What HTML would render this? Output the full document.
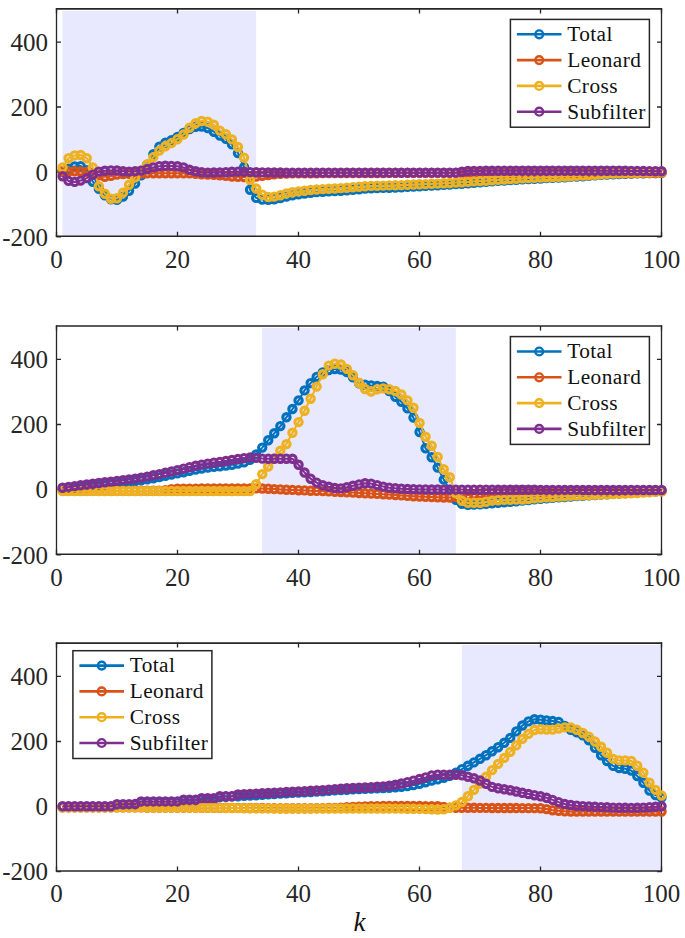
<!DOCTYPE html>
<html><head><meta charset="utf-8"><style>
html,body{margin:0;padding:0;background:#fff;width:685px;height:938px;overflow:hidden}
svg{display:block}
</style></head><body>
<svg width="685" height="938" viewBox="0 0 685 938">
<style>.t{font:25px "Liberation Serif",serif;fill:#262626}.l{font:21.3px "Liberation Serif",serif;fill:#111;letter-spacing:0.45px}.k{font:italic 27px "Liberation Serif",serif;fill:#111}</style>
<defs><filter id="bl" x="-5%" y="-5%" width="110%" height="110%"><feGaussianBlur stdDeviation="0.45"/></filter></defs>
<rect width="685" height="938" fill="#fff"/>
<rect x="62.5" y="10.8" width="193.6" height="225.4" fill="#E8E8FE"/>
<path d="M55.85 8.90H662.15M55.85 236.20H662.15" stroke="#262626" stroke-width="1.6" fill="none"/>
<path d="M56.50 8.10V237.00M661.50 8.10V237.00" stroke="#262626" stroke-width="1.3" fill="none"/>
<path d="M56.5 236.2V231.7M56.5 8.9V13.4M177.5 236.2V231.7M177.5 8.9V13.4M298.5 236.2V231.7M298.5 8.9V13.4M419.5 236.2V231.7M419.5 8.9V13.4M540.5 236.2V231.7M540.5 8.9V13.4M661.5 236.2V231.7M661.5 8.9V13.4M56.5 236.9H61.0M661.5 236.9H657.0M56.5 172.0H61.0M661.5 172.0H657.0M56.5 107.0H61.0M661.5 107.0H657.0M56.5 42.1H61.0M661.5 42.1H657.0" stroke="#262626" stroke-width="1.3" fill="none"/>
<text x="56.5" y="267.6" text-anchor="middle" class="t">0</text>
<text x="177.5" y="267.6" text-anchor="middle" class="t">20</text>
<text x="298.5" y="267.6" text-anchor="middle" class="t">40</text>
<text x="419.5" y="267.6" text-anchor="middle" class="t">60</text>
<text x="540.5" y="267.6" text-anchor="middle" class="t">80</text>
<text x="661.5" y="267.6" text-anchor="middle" class="t">100</text>
<text x="48.0" y="245.5" text-anchor="end" class="t">-200</text>
<text x="48.0" y="180.6" text-anchor="end" class="t">0</text>
<text x="48.0" y="115.6" text-anchor="end" class="t">200</text>
<text x="48.0" y="50.7" text-anchor="end" class="t">400</text>
<g filter="url(#bl)">
<path d="M62.5 171.3 L68.6 168.7 L74.7 166.4 L80.7 166.1 L86.8 170.3 L92.8 181.7 L98.8 188.8 L104.9 195.3 L110.9 199.2 L117.0 199.9 L123.0 196.6 L129.1 190.8 L135.2 183.6 L141.2 175.2 L147.2 164.8 L153.3 154.1 L159.4 146.6 L165.4 142.7 L171.4 140.1 L177.5 136.9 L183.6 133.0 L189.6 129.1 L195.7 126.8 L201.7 126.5 L207.8 128.1 L213.8 131.7 L219.9 135.6 L225.9 138.8 L231.9 144.4 L238.0 153.1 L244.1 167.1 L250.1 189.8 L256.1 197.9 L262.2 199.6 L268.2 199.9 L274.3 199.2 L280.4 198.0 L286.4 196.6 L292.5 195.4 L298.5 194.4 L304.5 193.5 L310.6 192.7 L316.6 192.1 L322.7 191.7 L328.8 191.4 L334.8 191.1 L340.8 190.7 L346.9 190.3 L352.9 189.8 L359.0 189.2 L365.1 188.6 L371.1 188.2 L377.2 188.0 L383.2 187.8 L389.2 187.7 L395.3 187.5 L401.3 187.3 L407.4 186.9 L413.4 186.6 L419.5 186.2 L425.6 185.9 L431.6 185.6 L437.6 185.3 L443.7 184.9 L449.8 184.6 L455.8 184.1 L461.9 183.7 L467.9 183.3 L473.9 182.8 L480.0 182.3 L486.0 181.9 L492.1 181.4 L498.1 180.9 L504.2 180.5 L510.2 180.1 L516.3 179.7 L522.4 179.4 L528.4 179.1 L534.5 178.8 L540.5 178.5 L546.5 178.1 L552.6 177.8 L558.6 177.5 L564.7 177.2 L570.8 176.8 L576.8 176.5 L582.9 176.2 L588.9 175.9 L595.0 175.4 L601.0 174.9 L607.1 174.6 L613.1 174.3 L619.1 174.0 L625.2 173.8 L631.2 173.6 L637.3 173.4 L643.4 173.3 L649.4 173.1 L655.5 173.0 L661.5 172.9" fill="none" stroke="#0072BD" stroke-width="2.00" stroke-linejoin="round"/>
<path d="M58.9 171.3a3.65 3.65 0 1 0 7.30 0a3.65 3.65 0 1 0 -7.30 0M64.9 168.7a3.65 3.65 0 1 0 7.30 0a3.65 3.65 0 1 0 -7.30 0M71.0 166.4a3.65 3.65 0 1 0 7.30 0a3.65 3.65 0 1 0 -7.30 0M77.0 166.1a3.65 3.65 0 1 0 7.30 0a3.65 3.65 0 1 0 -7.30 0M83.1 170.3a3.65 3.65 0 1 0 7.30 0a3.65 3.65 0 1 0 -7.30 0M89.1 181.7a3.65 3.65 0 1 0 7.30 0a3.65 3.65 0 1 0 -7.30 0M95.2 188.8a3.65 3.65 0 1 0 7.30 0a3.65 3.65 0 1 0 -7.30 0M101.2 195.3a3.65 3.65 0 1 0 7.30 0a3.65 3.65 0 1 0 -7.30 0M107.3 199.2a3.65 3.65 0 1 0 7.30 0a3.65 3.65 0 1 0 -7.30 0M113.3 199.9a3.65 3.65 0 1 0 7.30 0a3.65 3.65 0 1 0 -7.30 0M119.4 196.6a3.65 3.65 0 1 0 7.30 0a3.65 3.65 0 1 0 -7.30 0M125.4 190.8a3.65 3.65 0 1 0 7.30 0a3.65 3.65 0 1 0 -7.30 0M131.5 183.6a3.65 3.65 0 1 0 7.30 0a3.65 3.65 0 1 0 -7.30 0M137.5 175.2a3.65 3.65 0 1 0 7.30 0a3.65 3.65 0 1 0 -7.30 0M143.6 164.8a3.65 3.65 0 1 0 7.30 0a3.65 3.65 0 1 0 -7.30 0M149.7 154.1a3.65 3.65 0 1 0 7.30 0a3.65 3.65 0 1 0 -7.30 0M155.7 146.6a3.65 3.65 0 1 0 7.30 0a3.65 3.65 0 1 0 -7.30 0M161.7 142.7a3.65 3.65 0 1 0 7.30 0a3.65 3.65 0 1 0 -7.30 0M167.8 140.1a3.65 3.65 0 1 0 7.30 0a3.65 3.65 0 1 0 -7.30 0M173.8 136.9a3.65 3.65 0 1 0 7.30 0a3.65 3.65 0 1 0 -7.30 0M179.9 133.0a3.65 3.65 0 1 0 7.30 0a3.65 3.65 0 1 0 -7.30 0M185.9 129.1a3.65 3.65 0 1 0 7.30 0a3.65 3.65 0 1 0 -7.30 0M192.0 126.8a3.65 3.65 0 1 0 7.30 0a3.65 3.65 0 1 0 -7.30 0M198.0 126.5a3.65 3.65 0 1 0 7.30 0a3.65 3.65 0 1 0 -7.30 0M204.1 128.1a3.65 3.65 0 1 0 7.30 0a3.65 3.65 0 1 0 -7.30 0M210.2 131.7a3.65 3.65 0 1 0 7.30 0a3.65 3.65 0 1 0 -7.30 0M216.2 135.6a3.65 3.65 0 1 0 7.30 0a3.65 3.65 0 1 0 -7.30 0M222.2 138.8a3.65 3.65 0 1 0 7.30 0a3.65 3.65 0 1 0 -7.30 0M228.3 144.4a3.65 3.65 0 1 0 7.30 0a3.65 3.65 0 1 0 -7.30 0M234.3 153.1a3.65 3.65 0 1 0 7.30 0a3.65 3.65 0 1 0 -7.30 0M240.4 167.1a3.65 3.65 0 1 0 7.30 0a3.65 3.65 0 1 0 -7.30 0M246.4 189.8a3.65 3.65 0 1 0 7.30 0a3.65 3.65 0 1 0 -7.30 0M252.5 197.9a3.65 3.65 0 1 0 7.30 0a3.65 3.65 0 1 0 -7.30 0M258.6 199.6a3.65 3.65 0 1 0 7.30 0a3.65 3.65 0 1 0 -7.30 0M264.6 199.9a3.65 3.65 0 1 0 7.30 0a3.65 3.65 0 1 0 -7.30 0M270.6 199.2a3.65 3.65 0 1 0 7.30 0a3.65 3.65 0 1 0 -7.30 0M276.7 198.0a3.65 3.65 0 1 0 7.30 0a3.65 3.65 0 1 0 -7.30 0M282.8 196.6a3.65 3.65 0 1 0 7.30 0a3.65 3.65 0 1 0 -7.30 0M288.8 195.4a3.65 3.65 0 1 0 7.30 0a3.65 3.65 0 1 0 -7.30 0M294.9 194.4a3.65 3.65 0 1 0 7.30 0a3.65 3.65 0 1 0 -7.30 0M300.9 193.5a3.65 3.65 0 1 0 7.30 0a3.65 3.65 0 1 0 -7.30 0M307.0 192.7a3.65 3.65 0 1 0 7.30 0a3.65 3.65 0 1 0 -7.30 0M313.0 192.1a3.65 3.65 0 1 0 7.30 0a3.65 3.65 0 1 0 -7.30 0M319.1 191.7a3.65 3.65 0 1 0 7.30 0a3.65 3.65 0 1 0 -7.30 0M325.1 191.4a3.65 3.65 0 1 0 7.30 0a3.65 3.65 0 1 0 -7.30 0M331.2 191.1a3.65 3.65 0 1 0 7.30 0a3.65 3.65 0 1 0 -7.30 0M337.2 190.7a3.65 3.65 0 1 0 7.30 0a3.65 3.65 0 1 0 -7.30 0M343.2 190.3a3.65 3.65 0 1 0 7.30 0a3.65 3.65 0 1 0 -7.30 0M349.3 189.8a3.65 3.65 0 1 0 7.30 0a3.65 3.65 0 1 0 -7.30 0M355.4 189.2a3.65 3.65 0 1 0 7.30 0a3.65 3.65 0 1 0 -7.30 0M361.4 188.6a3.65 3.65 0 1 0 7.30 0a3.65 3.65 0 1 0 -7.30 0M367.5 188.2a3.65 3.65 0 1 0 7.30 0a3.65 3.65 0 1 0 -7.30 0M373.5 188.0a3.65 3.65 0 1 0 7.30 0a3.65 3.65 0 1 0 -7.30 0M379.6 187.8a3.65 3.65 0 1 0 7.30 0a3.65 3.65 0 1 0 -7.30 0M385.6 187.7a3.65 3.65 0 1 0 7.30 0a3.65 3.65 0 1 0 -7.30 0M391.7 187.5a3.65 3.65 0 1 0 7.30 0a3.65 3.65 0 1 0 -7.30 0M397.7 187.3a3.65 3.65 0 1 0 7.30 0a3.65 3.65 0 1 0 -7.30 0M403.8 186.9a3.65 3.65 0 1 0 7.30 0a3.65 3.65 0 1 0 -7.30 0M409.8 186.6a3.65 3.65 0 1 0 7.30 0a3.65 3.65 0 1 0 -7.30 0M415.9 186.2a3.65 3.65 0 1 0 7.30 0a3.65 3.65 0 1 0 -7.30 0M421.9 185.9a3.65 3.65 0 1 0 7.30 0a3.65 3.65 0 1 0 -7.30 0M428.0 185.6a3.65 3.65 0 1 0 7.30 0a3.65 3.65 0 1 0 -7.30 0M434.0 185.3a3.65 3.65 0 1 0 7.30 0a3.65 3.65 0 1 0 -7.30 0M440.1 184.9a3.65 3.65 0 1 0 7.30 0a3.65 3.65 0 1 0 -7.30 0M446.1 184.6a3.65 3.65 0 1 0 7.30 0a3.65 3.65 0 1 0 -7.30 0M452.2 184.1a3.65 3.65 0 1 0 7.30 0a3.65 3.65 0 1 0 -7.30 0M458.2 183.7a3.65 3.65 0 1 0 7.30 0a3.65 3.65 0 1 0 -7.30 0M464.3 183.3a3.65 3.65 0 1 0 7.30 0a3.65 3.65 0 1 0 -7.30 0M470.3 182.8a3.65 3.65 0 1 0 7.30 0a3.65 3.65 0 1 0 -7.30 0M476.4 182.3a3.65 3.65 0 1 0 7.30 0a3.65 3.65 0 1 0 -7.30 0M482.4 181.9a3.65 3.65 0 1 0 7.30 0a3.65 3.65 0 1 0 -7.30 0M488.4 181.4a3.65 3.65 0 1 0 7.30 0a3.65 3.65 0 1 0 -7.30 0M494.5 180.9a3.65 3.65 0 1 0 7.30 0a3.65 3.65 0 1 0 -7.30 0M500.6 180.5a3.65 3.65 0 1 0 7.30 0a3.65 3.65 0 1 0 -7.30 0M506.6 180.1a3.65 3.65 0 1 0 7.30 0a3.65 3.65 0 1 0 -7.30 0M512.6 179.7a3.65 3.65 0 1 0 7.30 0a3.65 3.65 0 1 0 -7.30 0M518.7 179.4a3.65 3.65 0 1 0 7.30 0a3.65 3.65 0 1 0 -7.30 0M524.8 179.1a3.65 3.65 0 1 0 7.30 0a3.65 3.65 0 1 0 -7.30 0M530.8 178.8a3.65 3.65 0 1 0 7.30 0a3.65 3.65 0 1 0 -7.30 0M536.9 178.5a3.65 3.65 0 1 0 7.30 0a3.65 3.65 0 1 0 -7.30 0M542.9 178.1a3.65 3.65 0 1 0 7.30 0a3.65 3.65 0 1 0 -7.30 0M548.9 177.8a3.65 3.65 0 1 0 7.30 0a3.65 3.65 0 1 0 -7.30 0M555.0 177.5a3.65 3.65 0 1 0 7.30 0a3.65 3.65 0 1 0 -7.30 0M561.1 177.2a3.65 3.65 0 1 0 7.30 0a3.65 3.65 0 1 0 -7.30 0M567.1 176.8a3.65 3.65 0 1 0 7.30 0a3.65 3.65 0 1 0 -7.30 0M573.1 176.5a3.65 3.65 0 1 0 7.30 0a3.65 3.65 0 1 0 -7.30 0M579.2 176.2a3.65 3.65 0 1 0 7.30 0a3.65 3.65 0 1 0 -7.30 0M585.2 175.9a3.65 3.65 0 1 0 7.30 0a3.65 3.65 0 1 0 -7.30 0M591.3 175.4a3.65 3.65 0 1 0 7.30 0a3.65 3.65 0 1 0 -7.30 0M597.4 174.9a3.65 3.65 0 1 0 7.30 0a3.65 3.65 0 1 0 -7.30 0M603.4 174.6a3.65 3.65 0 1 0 7.30 0a3.65 3.65 0 1 0 -7.30 0M609.5 174.3a3.65 3.65 0 1 0 7.30 0a3.65 3.65 0 1 0 -7.30 0M615.5 174.0a3.65 3.65 0 1 0 7.30 0a3.65 3.65 0 1 0 -7.30 0M621.5 173.8a3.65 3.65 0 1 0 7.30 0a3.65 3.65 0 1 0 -7.30 0M627.6 173.6a3.65 3.65 0 1 0 7.30 0a3.65 3.65 0 1 0 -7.30 0M633.6 173.4a3.65 3.65 0 1 0 7.30 0a3.65 3.65 0 1 0 -7.30 0M639.7 173.3a3.65 3.65 0 1 0 7.30 0a3.65 3.65 0 1 0 -7.30 0M645.8 173.1a3.65 3.65 0 1 0 7.30 0a3.65 3.65 0 1 0 -7.30 0M651.8 173.0a3.65 3.65 0 1 0 7.30 0a3.65 3.65 0 1 0 -7.30 0M657.9 172.9a3.65 3.65 0 1 0 7.30 0a3.65 3.65 0 1 0 -7.30 0" fill="none" stroke="#0072BD" stroke-width="3.10"/>
<path d="M62.5 172.0 L68.6 171.5 L74.7 171.3 L80.7 171.5 L86.8 172.0 L92.8 173.3 L98.8 175.2 L104.9 176.8 L110.9 175.9 L117.0 174.6 L123.0 174.1 L129.1 173.9 L135.2 173.7 L141.2 173.6 L147.2 173.4 L153.3 173.3 L159.4 173.3 L165.4 173.3 L171.4 173.3 L177.5 173.3 L183.6 173.3 L189.6 173.4 L195.7 173.8 L201.7 174.2 L207.8 174.5 L213.8 174.8 L219.9 175.2 L225.9 175.9 L231.9 176.5 L238.0 176.8 L244.1 177.1 L250.1 177.2 L256.1 176.5 L262.2 175.9 L268.2 175.0 L274.3 174.2 L280.4 173.9 L286.4 173.6 L292.5 173.4 L298.5 173.3 L304.5 173.2 L310.6 173.2 L316.6 173.2 L322.7 173.1 L328.8 173.1 L334.8 173.1 L340.8 173.1 L346.9 173.0 L352.9 173.0 L359.0 173.0 L365.1 173.0 L371.1 173.0 L377.2 173.0 L383.2 173.0 L389.2 172.9 L395.3 172.9 L401.3 172.9 L407.4 172.9 L413.4 172.9 L419.5 172.9 L425.6 172.9 L431.6 172.9 L437.6 172.9 L443.7 172.9 L449.8 172.9 L455.8 172.9 L461.9 173.0 L467.9 173.1 L473.9 173.2 L480.0 173.3 L486.0 173.3 L492.1 173.3 L498.1 173.3 L504.2 173.3 L510.2 173.3 L516.3 173.3 L522.4 173.3 L528.4 173.3 L534.5 173.3 L540.5 173.3 L546.5 173.3 L552.6 173.3 L558.6 173.3 L564.7 173.3 L570.8 173.3 L576.8 173.3 L582.9 173.3 L588.9 173.3 L595.0 173.3 L601.0 173.3 L607.1 173.3 L613.1 173.2 L619.1 173.2 L625.2 173.2 L631.2 173.2 L637.3 173.1 L643.4 173.1 L649.4 173.0 L655.5 173.0 L661.5 172.9" fill="none" stroke="#D95319" stroke-width="2.00" stroke-linejoin="round"/>
<path d="M58.9 172.0a3.65 3.65 0 1 0 7.30 0a3.65 3.65 0 1 0 -7.30 0M64.9 171.5a3.65 3.65 0 1 0 7.30 0a3.65 3.65 0 1 0 -7.30 0M71.0 171.3a3.65 3.65 0 1 0 7.30 0a3.65 3.65 0 1 0 -7.30 0M77.0 171.5a3.65 3.65 0 1 0 7.30 0a3.65 3.65 0 1 0 -7.30 0M83.1 172.0a3.65 3.65 0 1 0 7.30 0a3.65 3.65 0 1 0 -7.30 0M89.1 173.3a3.65 3.65 0 1 0 7.30 0a3.65 3.65 0 1 0 -7.30 0M95.2 175.2a3.65 3.65 0 1 0 7.30 0a3.65 3.65 0 1 0 -7.30 0M101.2 176.8a3.65 3.65 0 1 0 7.30 0a3.65 3.65 0 1 0 -7.30 0M107.3 175.9a3.65 3.65 0 1 0 7.30 0a3.65 3.65 0 1 0 -7.30 0M113.3 174.6a3.65 3.65 0 1 0 7.30 0a3.65 3.65 0 1 0 -7.30 0M119.4 174.1a3.65 3.65 0 1 0 7.30 0a3.65 3.65 0 1 0 -7.30 0M125.4 173.9a3.65 3.65 0 1 0 7.30 0a3.65 3.65 0 1 0 -7.30 0M131.5 173.7a3.65 3.65 0 1 0 7.30 0a3.65 3.65 0 1 0 -7.30 0M137.5 173.6a3.65 3.65 0 1 0 7.30 0a3.65 3.65 0 1 0 -7.30 0M143.6 173.4a3.65 3.65 0 1 0 7.30 0a3.65 3.65 0 1 0 -7.30 0M149.7 173.3a3.65 3.65 0 1 0 7.30 0a3.65 3.65 0 1 0 -7.30 0M155.7 173.3a3.65 3.65 0 1 0 7.30 0a3.65 3.65 0 1 0 -7.30 0M161.7 173.3a3.65 3.65 0 1 0 7.30 0a3.65 3.65 0 1 0 -7.30 0M167.8 173.3a3.65 3.65 0 1 0 7.30 0a3.65 3.65 0 1 0 -7.30 0M173.8 173.3a3.65 3.65 0 1 0 7.30 0a3.65 3.65 0 1 0 -7.30 0M179.9 173.3a3.65 3.65 0 1 0 7.30 0a3.65 3.65 0 1 0 -7.30 0M185.9 173.4a3.65 3.65 0 1 0 7.30 0a3.65 3.65 0 1 0 -7.30 0M192.0 173.8a3.65 3.65 0 1 0 7.30 0a3.65 3.65 0 1 0 -7.30 0M198.0 174.2a3.65 3.65 0 1 0 7.30 0a3.65 3.65 0 1 0 -7.30 0M204.1 174.5a3.65 3.65 0 1 0 7.30 0a3.65 3.65 0 1 0 -7.30 0M210.2 174.8a3.65 3.65 0 1 0 7.30 0a3.65 3.65 0 1 0 -7.30 0M216.2 175.2a3.65 3.65 0 1 0 7.30 0a3.65 3.65 0 1 0 -7.30 0M222.2 175.9a3.65 3.65 0 1 0 7.30 0a3.65 3.65 0 1 0 -7.30 0M228.3 176.5a3.65 3.65 0 1 0 7.30 0a3.65 3.65 0 1 0 -7.30 0M234.3 176.8a3.65 3.65 0 1 0 7.30 0a3.65 3.65 0 1 0 -7.30 0M240.4 177.1a3.65 3.65 0 1 0 7.30 0a3.65 3.65 0 1 0 -7.30 0M246.4 177.2a3.65 3.65 0 1 0 7.30 0a3.65 3.65 0 1 0 -7.30 0M252.5 176.5a3.65 3.65 0 1 0 7.30 0a3.65 3.65 0 1 0 -7.30 0M258.6 175.9a3.65 3.65 0 1 0 7.30 0a3.65 3.65 0 1 0 -7.30 0M264.6 175.0a3.65 3.65 0 1 0 7.30 0a3.65 3.65 0 1 0 -7.30 0M270.6 174.2a3.65 3.65 0 1 0 7.30 0a3.65 3.65 0 1 0 -7.30 0M276.7 173.9a3.65 3.65 0 1 0 7.30 0a3.65 3.65 0 1 0 -7.30 0M282.8 173.6a3.65 3.65 0 1 0 7.30 0a3.65 3.65 0 1 0 -7.30 0M288.8 173.4a3.65 3.65 0 1 0 7.30 0a3.65 3.65 0 1 0 -7.30 0M294.9 173.3a3.65 3.65 0 1 0 7.30 0a3.65 3.65 0 1 0 -7.30 0M300.9 173.2a3.65 3.65 0 1 0 7.30 0a3.65 3.65 0 1 0 -7.30 0M307.0 173.2a3.65 3.65 0 1 0 7.30 0a3.65 3.65 0 1 0 -7.30 0M313.0 173.2a3.65 3.65 0 1 0 7.30 0a3.65 3.65 0 1 0 -7.30 0M319.1 173.1a3.65 3.65 0 1 0 7.30 0a3.65 3.65 0 1 0 -7.30 0M325.1 173.1a3.65 3.65 0 1 0 7.30 0a3.65 3.65 0 1 0 -7.30 0M331.2 173.1a3.65 3.65 0 1 0 7.30 0a3.65 3.65 0 1 0 -7.30 0M337.2 173.1a3.65 3.65 0 1 0 7.30 0a3.65 3.65 0 1 0 -7.30 0M343.2 173.0a3.65 3.65 0 1 0 7.30 0a3.65 3.65 0 1 0 -7.30 0M349.3 173.0a3.65 3.65 0 1 0 7.30 0a3.65 3.65 0 1 0 -7.30 0M355.4 173.0a3.65 3.65 0 1 0 7.30 0a3.65 3.65 0 1 0 -7.30 0M361.4 173.0a3.65 3.65 0 1 0 7.30 0a3.65 3.65 0 1 0 -7.30 0M367.5 173.0a3.65 3.65 0 1 0 7.30 0a3.65 3.65 0 1 0 -7.30 0M373.5 173.0a3.65 3.65 0 1 0 7.30 0a3.65 3.65 0 1 0 -7.30 0M379.6 173.0a3.65 3.65 0 1 0 7.30 0a3.65 3.65 0 1 0 -7.30 0M385.6 172.9a3.65 3.65 0 1 0 7.30 0a3.65 3.65 0 1 0 -7.30 0M391.7 172.9a3.65 3.65 0 1 0 7.30 0a3.65 3.65 0 1 0 -7.30 0M397.7 172.9a3.65 3.65 0 1 0 7.30 0a3.65 3.65 0 1 0 -7.30 0M403.8 172.9a3.65 3.65 0 1 0 7.30 0a3.65 3.65 0 1 0 -7.30 0M409.8 172.9a3.65 3.65 0 1 0 7.30 0a3.65 3.65 0 1 0 -7.30 0M415.9 172.9a3.65 3.65 0 1 0 7.30 0a3.65 3.65 0 1 0 -7.30 0M421.9 172.9a3.65 3.65 0 1 0 7.30 0a3.65 3.65 0 1 0 -7.30 0M428.0 172.9a3.65 3.65 0 1 0 7.30 0a3.65 3.65 0 1 0 -7.30 0M434.0 172.9a3.65 3.65 0 1 0 7.30 0a3.65 3.65 0 1 0 -7.30 0M440.1 172.9a3.65 3.65 0 1 0 7.30 0a3.65 3.65 0 1 0 -7.30 0M446.1 172.9a3.65 3.65 0 1 0 7.30 0a3.65 3.65 0 1 0 -7.30 0M452.2 172.9a3.65 3.65 0 1 0 7.30 0a3.65 3.65 0 1 0 -7.30 0M458.2 173.0a3.65 3.65 0 1 0 7.30 0a3.65 3.65 0 1 0 -7.30 0M464.3 173.1a3.65 3.65 0 1 0 7.30 0a3.65 3.65 0 1 0 -7.30 0M470.3 173.2a3.65 3.65 0 1 0 7.30 0a3.65 3.65 0 1 0 -7.30 0M476.4 173.3a3.65 3.65 0 1 0 7.30 0a3.65 3.65 0 1 0 -7.30 0M482.4 173.3a3.65 3.65 0 1 0 7.30 0a3.65 3.65 0 1 0 -7.30 0M488.4 173.3a3.65 3.65 0 1 0 7.30 0a3.65 3.65 0 1 0 -7.30 0M494.5 173.3a3.65 3.65 0 1 0 7.30 0a3.65 3.65 0 1 0 -7.30 0M500.6 173.3a3.65 3.65 0 1 0 7.30 0a3.65 3.65 0 1 0 -7.30 0M506.6 173.3a3.65 3.65 0 1 0 7.30 0a3.65 3.65 0 1 0 -7.30 0M512.6 173.3a3.65 3.65 0 1 0 7.30 0a3.65 3.65 0 1 0 -7.30 0M518.7 173.3a3.65 3.65 0 1 0 7.30 0a3.65 3.65 0 1 0 -7.30 0M524.8 173.3a3.65 3.65 0 1 0 7.30 0a3.65 3.65 0 1 0 -7.30 0M530.8 173.3a3.65 3.65 0 1 0 7.30 0a3.65 3.65 0 1 0 -7.30 0M536.9 173.3a3.65 3.65 0 1 0 7.30 0a3.65 3.65 0 1 0 -7.30 0M542.9 173.3a3.65 3.65 0 1 0 7.30 0a3.65 3.65 0 1 0 -7.30 0M548.9 173.3a3.65 3.65 0 1 0 7.30 0a3.65 3.65 0 1 0 -7.30 0M555.0 173.3a3.65 3.65 0 1 0 7.30 0a3.65 3.65 0 1 0 -7.30 0M561.1 173.3a3.65 3.65 0 1 0 7.30 0a3.65 3.65 0 1 0 -7.30 0M567.1 173.3a3.65 3.65 0 1 0 7.30 0a3.65 3.65 0 1 0 -7.30 0M573.1 173.3a3.65 3.65 0 1 0 7.30 0a3.65 3.65 0 1 0 -7.30 0M579.2 173.3a3.65 3.65 0 1 0 7.30 0a3.65 3.65 0 1 0 -7.30 0M585.2 173.3a3.65 3.65 0 1 0 7.30 0a3.65 3.65 0 1 0 -7.30 0M591.3 173.3a3.65 3.65 0 1 0 7.30 0a3.65 3.65 0 1 0 -7.30 0M597.4 173.3a3.65 3.65 0 1 0 7.30 0a3.65 3.65 0 1 0 -7.30 0M603.4 173.3a3.65 3.65 0 1 0 7.30 0a3.65 3.65 0 1 0 -7.30 0M609.5 173.2a3.65 3.65 0 1 0 7.30 0a3.65 3.65 0 1 0 -7.30 0M615.5 173.2a3.65 3.65 0 1 0 7.30 0a3.65 3.65 0 1 0 -7.30 0M621.5 173.2a3.65 3.65 0 1 0 7.30 0a3.65 3.65 0 1 0 -7.30 0M627.6 173.2a3.65 3.65 0 1 0 7.30 0a3.65 3.65 0 1 0 -7.30 0M633.6 173.1a3.65 3.65 0 1 0 7.30 0a3.65 3.65 0 1 0 -7.30 0M639.7 173.1a3.65 3.65 0 1 0 7.30 0a3.65 3.65 0 1 0 -7.30 0M645.8 173.0a3.65 3.65 0 1 0 7.30 0a3.65 3.65 0 1 0 -7.30 0M651.8 173.0a3.65 3.65 0 1 0 7.30 0a3.65 3.65 0 1 0 -7.30 0M657.9 172.9a3.65 3.65 0 1 0 7.30 0a3.65 3.65 0 1 0 -7.30 0" fill="none" stroke="#D95319" stroke-width="3.10"/>
<path d="M62.5 167.4 L68.6 158.2 L74.7 155.4 L80.7 155.0 L86.8 158.2 L92.8 167.4 L98.8 186.2 L104.9 193.7 L110.9 198.7 L117.0 198.3 L123.0 192.6 L129.1 184.8 L135.2 177.4 L141.2 170.4 L147.2 164.5 L153.3 157.1 L159.4 150.6 L165.4 146.3 L171.4 143.1 L177.5 139.2 L183.6 134.5 L189.6 127.8 L195.7 123.2 L201.7 121.0 L207.8 121.7 L213.8 124.8 L219.9 130.6 L225.9 134.3 L231.9 139.4 L238.0 147.0 L244.1 157.6 L250.1 179.9 L256.1 188.5 L262.2 194.7 L268.2 197.0 L274.3 196.6 L280.4 195.2 L286.4 193.4 L292.5 192.3 L298.5 191.4 L304.5 190.7 L310.6 190.0 L316.6 189.5 L322.7 189.1 L328.8 188.8 L334.8 188.5 L340.8 188.1 L346.9 187.7 L352.9 187.2 L359.0 186.7 L365.1 186.3 L371.1 185.9 L377.2 185.7 L383.2 185.6 L389.2 185.4 L395.3 185.3 L401.3 185.1 L407.4 184.8 L413.4 184.5 L419.5 184.3 L425.6 184.1 L431.6 183.8 L437.6 183.6 L443.7 183.3 L449.8 183.0 L455.8 182.6 L461.9 182.3 L467.9 181.9 L473.9 181.4 L480.0 181.0 L486.0 180.7 L492.1 180.3 L498.1 179.9 L504.2 179.5 L510.2 179.1 L516.3 178.8 L522.4 178.4 L528.4 178.1 L534.5 177.8 L540.5 177.5 L546.5 177.2 L552.6 177.0 L558.6 176.7 L564.7 176.5 L570.8 176.2 L576.8 175.9 L582.9 175.6 L588.9 175.2 L595.0 174.8 L601.0 174.3 L607.1 173.9 L613.1 173.6 L619.1 173.3 L625.2 173.1 L631.2 172.9 L637.3 172.8 L643.4 172.6 L649.4 172.5 L655.5 172.4 L661.5 172.3" fill="none" stroke="#EDB120" stroke-width="2.00" stroke-linejoin="round"/>
<path d="M58.9 167.4a3.65 3.65 0 1 0 7.30 0a3.65 3.65 0 1 0 -7.30 0M64.9 158.2a3.65 3.65 0 1 0 7.30 0a3.65 3.65 0 1 0 -7.30 0M71.0 155.4a3.65 3.65 0 1 0 7.30 0a3.65 3.65 0 1 0 -7.30 0M77.0 155.0a3.65 3.65 0 1 0 7.30 0a3.65 3.65 0 1 0 -7.30 0M83.1 158.2a3.65 3.65 0 1 0 7.30 0a3.65 3.65 0 1 0 -7.30 0M89.1 167.4a3.65 3.65 0 1 0 7.30 0a3.65 3.65 0 1 0 -7.30 0M95.2 186.2a3.65 3.65 0 1 0 7.30 0a3.65 3.65 0 1 0 -7.30 0M101.2 193.7a3.65 3.65 0 1 0 7.30 0a3.65 3.65 0 1 0 -7.30 0M107.3 198.7a3.65 3.65 0 1 0 7.30 0a3.65 3.65 0 1 0 -7.30 0M113.3 198.3a3.65 3.65 0 1 0 7.30 0a3.65 3.65 0 1 0 -7.30 0M119.4 192.6a3.65 3.65 0 1 0 7.30 0a3.65 3.65 0 1 0 -7.30 0M125.4 184.8a3.65 3.65 0 1 0 7.30 0a3.65 3.65 0 1 0 -7.30 0M131.5 177.4a3.65 3.65 0 1 0 7.30 0a3.65 3.65 0 1 0 -7.30 0M137.5 170.4a3.65 3.65 0 1 0 7.30 0a3.65 3.65 0 1 0 -7.30 0M143.6 164.5a3.65 3.65 0 1 0 7.30 0a3.65 3.65 0 1 0 -7.30 0M149.7 157.1a3.65 3.65 0 1 0 7.30 0a3.65 3.65 0 1 0 -7.30 0M155.7 150.6a3.65 3.65 0 1 0 7.30 0a3.65 3.65 0 1 0 -7.30 0M161.7 146.3a3.65 3.65 0 1 0 7.30 0a3.65 3.65 0 1 0 -7.30 0M167.8 143.1a3.65 3.65 0 1 0 7.30 0a3.65 3.65 0 1 0 -7.30 0M173.8 139.2a3.65 3.65 0 1 0 7.30 0a3.65 3.65 0 1 0 -7.30 0M179.9 134.5a3.65 3.65 0 1 0 7.30 0a3.65 3.65 0 1 0 -7.30 0M185.9 127.8a3.65 3.65 0 1 0 7.30 0a3.65 3.65 0 1 0 -7.30 0M192.0 123.2a3.65 3.65 0 1 0 7.30 0a3.65 3.65 0 1 0 -7.30 0M198.0 121.0a3.65 3.65 0 1 0 7.30 0a3.65 3.65 0 1 0 -7.30 0M204.1 121.7a3.65 3.65 0 1 0 7.30 0a3.65 3.65 0 1 0 -7.30 0M210.2 124.8a3.65 3.65 0 1 0 7.30 0a3.65 3.65 0 1 0 -7.30 0M216.2 130.6a3.65 3.65 0 1 0 7.30 0a3.65 3.65 0 1 0 -7.30 0M222.2 134.3a3.65 3.65 0 1 0 7.30 0a3.65 3.65 0 1 0 -7.30 0M228.3 139.4a3.65 3.65 0 1 0 7.30 0a3.65 3.65 0 1 0 -7.30 0M234.3 147.0a3.65 3.65 0 1 0 7.30 0a3.65 3.65 0 1 0 -7.30 0M240.4 157.6a3.65 3.65 0 1 0 7.30 0a3.65 3.65 0 1 0 -7.30 0M246.4 179.9a3.65 3.65 0 1 0 7.30 0a3.65 3.65 0 1 0 -7.30 0M252.5 188.5a3.65 3.65 0 1 0 7.30 0a3.65 3.65 0 1 0 -7.30 0M258.6 194.7a3.65 3.65 0 1 0 7.30 0a3.65 3.65 0 1 0 -7.30 0M264.6 197.0a3.65 3.65 0 1 0 7.30 0a3.65 3.65 0 1 0 -7.30 0M270.6 196.6a3.65 3.65 0 1 0 7.30 0a3.65 3.65 0 1 0 -7.30 0M276.7 195.2a3.65 3.65 0 1 0 7.30 0a3.65 3.65 0 1 0 -7.30 0M282.8 193.4a3.65 3.65 0 1 0 7.30 0a3.65 3.65 0 1 0 -7.30 0M288.8 192.3a3.65 3.65 0 1 0 7.30 0a3.65 3.65 0 1 0 -7.30 0M294.9 191.4a3.65 3.65 0 1 0 7.30 0a3.65 3.65 0 1 0 -7.30 0M300.9 190.7a3.65 3.65 0 1 0 7.30 0a3.65 3.65 0 1 0 -7.30 0M307.0 190.0a3.65 3.65 0 1 0 7.30 0a3.65 3.65 0 1 0 -7.30 0M313.0 189.5a3.65 3.65 0 1 0 7.30 0a3.65 3.65 0 1 0 -7.30 0M319.1 189.1a3.65 3.65 0 1 0 7.30 0a3.65 3.65 0 1 0 -7.30 0M325.1 188.8a3.65 3.65 0 1 0 7.30 0a3.65 3.65 0 1 0 -7.30 0M331.2 188.5a3.65 3.65 0 1 0 7.30 0a3.65 3.65 0 1 0 -7.30 0M337.2 188.1a3.65 3.65 0 1 0 7.30 0a3.65 3.65 0 1 0 -7.30 0M343.2 187.7a3.65 3.65 0 1 0 7.30 0a3.65 3.65 0 1 0 -7.30 0M349.3 187.2a3.65 3.65 0 1 0 7.30 0a3.65 3.65 0 1 0 -7.30 0M355.4 186.7a3.65 3.65 0 1 0 7.30 0a3.65 3.65 0 1 0 -7.30 0M361.4 186.3a3.65 3.65 0 1 0 7.30 0a3.65 3.65 0 1 0 -7.30 0M367.5 185.9a3.65 3.65 0 1 0 7.30 0a3.65 3.65 0 1 0 -7.30 0M373.5 185.7a3.65 3.65 0 1 0 7.30 0a3.65 3.65 0 1 0 -7.30 0M379.6 185.6a3.65 3.65 0 1 0 7.30 0a3.65 3.65 0 1 0 -7.30 0M385.6 185.4a3.65 3.65 0 1 0 7.30 0a3.65 3.65 0 1 0 -7.30 0M391.7 185.3a3.65 3.65 0 1 0 7.30 0a3.65 3.65 0 1 0 -7.30 0M397.7 185.1a3.65 3.65 0 1 0 7.30 0a3.65 3.65 0 1 0 -7.30 0M403.8 184.8a3.65 3.65 0 1 0 7.30 0a3.65 3.65 0 1 0 -7.30 0M409.8 184.5a3.65 3.65 0 1 0 7.30 0a3.65 3.65 0 1 0 -7.30 0M415.9 184.3a3.65 3.65 0 1 0 7.30 0a3.65 3.65 0 1 0 -7.30 0M421.9 184.1a3.65 3.65 0 1 0 7.30 0a3.65 3.65 0 1 0 -7.30 0M428.0 183.8a3.65 3.65 0 1 0 7.30 0a3.65 3.65 0 1 0 -7.30 0M434.0 183.6a3.65 3.65 0 1 0 7.30 0a3.65 3.65 0 1 0 -7.30 0M440.1 183.3a3.65 3.65 0 1 0 7.30 0a3.65 3.65 0 1 0 -7.30 0M446.1 183.0a3.65 3.65 0 1 0 7.30 0a3.65 3.65 0 1 0 -7.30 0M452.2 182.6a3.65 3.65 0 1 0 7.30 0a3.65 3.65 0 1 0 -7.30 0M458.2 182.3a3.65 3.65 0 1 0 7.30 0a3.65 3.65 0 1 0 -7.30 0M464.3 181.9a3.65 3.65 0 1 0 7.30 0a3.65 3.65 0 1 0 -7.30 0M470.3 181.4a3.65 3.65 0 1 0 7.30 0a3.65 3.65 0 1 0 -7.30 0M476.4 181.0a3.65 3.65 0 1 0 7.30 0a3.65 3.65 0 1 0 -7.30 0M482.4 180.7a3.65 3.65 0 1 0 7.30 0a3.65 3.65 0 1 0 -7.30 0M488.4 180.3a3.65 3.65 0 1 0 7.30 0a3.65 3.65 0 1 0 -7.30 0M494.5 179.9a3.65 3.65 0 1 0 7.30 0a3.65 3.65 0 1 0 -7.30 0M500.6 179.5a3.65 3.65 0 1 0 7.30 0a3.65 3.65 0 1 0 -7.30 0M506.6 179.1a3.65 3.65 0 1 0 7.30 0a3.65 3.65 0 1 0 -7.30 0M512.6 178.8a3.65 3.65 0 1 0 7.30 0a3.65 3.65 0 1 0 -7.30 0M518.7 178.4a3.65 3.65 0 1 0 7.30 0a3.65 3.65 0 1 0 -7.30 0M524.8 178.1a3.65 3.65 0 1 0 7.30 0a3.65 3.65 0 1 0 -7.30 0M530.8 177.8a3.65 3.65 0 1 0 7.30 0a3.65 3.65 0 1 0 -7.30 0M536.9 177.5a3.65 3.65 0 1 0 7.30 0a3.65 3.65 0 1 0 -7.30 0M542.9 177.2a3.65 3.65 0 1 0 7.30 0a3.65 3.65 0 1 0 -7.30 0M548.9 177.0a3.65 3.65 0 1 0 7.30 0a3.65 3.65 0 1 0 -7.30 0M555.0 176.7a3.65 3.65 0 1 0 7.30 0a3.65 3.65 0 1 0 -7.30 0M561.1 176.5a3.65 3.65 0 1 0 7.30 0a3.65 3.65 0 1 0 -7.30 0M567.1 176.2a3.65 3.65 0 1 0 7.30 0a3.65 3.65 0 1 0 -7.30 0M573.1 175.9a3.65 3.65 0 1 0 7.30 0a3.65 3.65 0 1 0 -7.30 0M579.2 175.6a3.65 3.65 0 1 0 7.30 0a3.65 3.65 0 1 0 -7.30 0M585.2 175.2a3.65 3.65 0 1 0 7.30 0a3.65 3.65 0 1 0 -7.30 0M591.3 174.8a3.65 3.65 0 1 0 7.30 0a3.65 3.65 0 1 0 -7.30 0M597.4 174.3a3.65 3.65 0 1 0 7.30 0a3.65 3.65 0 1 0 -7.30 0M603.4 173.9a3.65 3.65 0 1 0 7.30 0a3.65 3.65 0 1 0 -7.30 0M609.5 173.6a3.65 3.65 0 1 0 7.30 0a3.65 3.65 0 1 0 -7.30 0M615.5 173.3a3.65 3.65 0 1 0 7.30 0a3.65 3.65 0 1 0 -7.30 0M621.5 173.1a3.65 3.65 0 1 0 7.30 0a3.65 3.65 0 1 0 -7.30 0M627.6 172.9a3.65 3.65 0 1 0 7.30 0a3.65 3.65 0 1 0 -7.30 0M633.6 172.8a3.65 3.65 0 1 0 7.30 0a3.65 3.65 0 1 0 -7.30 0M639.7 172.6a3.65 3.65 0 1 0 7.30 0a3.65 3.65 0 1 0 -7.30 0M645.8 172.5a3.65 3.65 0 1 0 7.30 0a3.65 3.65 0 1 0 -7.30 0M651.8 172.4a3.65 3.65 0 1 0 7.30 0a3.65 3.65 0 1 0 -7.30 0M657.9 172.3a3.65 3.65 0 1 0 7.30 0a3.65 3.65 0 1 0 -7.30 0" fill="none" stroke="#EDB120" stroke-width="3.10"/>
<path d="M62.5 176.2 L68.6 180.9 L74.7 181.9 L80.7 180.6 L86.8 178.1 L92.8 174.7 L98.8 171.6 L104.9 170.8 L110.9 170.4 L117.0 170.5 L123.0 171.3 L129.1 171.6 L135.2 171.3 L141.2 170.6 L147.2 169.0 L153.3 167.4 L159.4 166.2 L165.4 165.8 L171.4 165.9 L177.5 166.3 L183.6 167.4 L189.6 169.8 L195.7 171.3 L201.7 172.2 L207.8 172.6 L213.8 172.5 L219.9 172.4 L225.9 172.2 L231.9 171.8 L238.0 171.6 L244.1 171.8 L250.1 172.1 L256.1 172.3 L262.2 172.4 L268.2 172.4 L274.3 172.5 L280.4 172.5 L286.4 172.6 L292.5 172.6 L298.5 172.6 L304.5 172.6 L310.6 172.6 L316.6 172.6 L322.7 172.6 L328.8 172.6 L334.8 172.6 L340.8 172.6 L346.9 172.6 L352.9 172.6 L359.0 172.6 L365.1 172.6 L371.1 172.6 L377.2 172.6 L383.2 172.6 L389.2 172.6 L395.3 172.6 L401.3 172.6 L407.4 172.6 L413.4 172.6 L419.5 172.6 L425.6 172.6 L431.6 172.6 L437.6 172.6 L443.7 172.6 L449.8 172.6 L455.8 172.6 L461.9 171.8 L467.9 171.0 L473.9 170.9 L480.0 170.9 L486.0 170.8 L492.1 170.8 L498.1 170.7 L504.2 170.7 L510.2 170.7 L516.3 170.7 L522.4 170.7 L528.4 170.7 L534.5 170.7 L540.5 170.7 L546.5 170.7 L552.6 170.7 L558.6 170.7 L564.7 170.7 L570.8 170.7 L576.8 170.7 L582.9 170.7 L588.9 170.7 L595.0 170.7 L601.0 170.7 L607.1 170.7 L613.1 170.7 L619.1 170.7 L625.2 170.8 L631.2 170.9 L637.3 170.9 L643.4 171.0 L649.4 171.1 L655.5 171.2 L661.5 171.3" fill="none" stroke="#7E2F8E" stroke-width="2.00" stroke-linejoin="round"/>
<path d="M58.9 176.2a3.65 3.65 0 1 0 7.30 0a3.65 3.65 0 1 0 -7.30 0M64.9 180.9a3.65 3.65 0 1 0 7.30 0a3.65 3.65 0 1 0 -7.30 0M71.0 181.9a3.65 3.65 0 1 0 7.30 0a3.65 3.65 0 1 0 -7.30 0M77.0 180.6a3.65 3.65 0 1 0 7.30 0a3.65 3.65 0 1 0 -7.30 0M83.1 178.1a3.65 3.65 0 1 0 7.30 0a3.65 3.65 0 1 0 -7.30 0M89.1 174.7a3.65 3.65 0 1 0 7.30 0a3.65 3.65 0 1 0 -7.30 0M95.2 171.6a3.65 3.65 0 1 0 7.30 0a3.65 3.65 0 1 0 -7.30 0M101.2 170.8a3.65 3.65 0 1 0 7.30 0a3.65 3.65 0 1 0 -7.30 0M107.3 170.4a3.65 3.65 0 1 0 7.30 0a3.65 3.65 0 1 0 -7.30 0M113.3 170.5a3.65 3.65 0 1 0 7.30 0a3.65 3.65 0 1 0 -7.30 0M119.4 171.3a3.65 3.65 0 1 0 7.30 0a3.65 3.65 0 1 0 -7.30 0M125.4 171.6a3.65 3.65 0 1 0 7.30 0a3.65 3.65 0 1 0 -7.30 0M131.5 171.3a3.65 3.65 0 1 0 7.30 0a3.65 3.65 0 1 0 -7.30 0M137.5 170.6a3.65 3.65 0 1 0 7.30 0a3.65 3.65 0 1 0 -7.30 0M143.6 169.0a3.65 3.65 0 1 0 7.30 0a3.65 3.65 0 1 0 -7.30 0M149.7 167.4a3.65 3.65 0 1 0 7.30 0a3.65 3.65 0 1 0 -7.30 0M155.7 166.2a3.65 3.65 0 1 0 7.30 0a3.65 3.65 0 1 0 -7.30 0M161.7 165.8a3.65 3.65 0 1 0 7.30 0a3.65 3.65 0 1 0 -7.30 0M167.8 165.9a3.65 3.65 0 1 0 7.30 0a3.65 3.65 0 1 0 -7.30 0M173.8 166.3a3.65 3.65 0 1 0 7.30 0a3.65 3.65 0 1 0 -7.30 0M179.9 167.4a3.65 3.65 0 1 0 7.30 0a3.65 3.65 0 1 0 -7.30 0M185.9 169.8a3.65 3.65 0 1 0 7.30 0a3.65 3.65 0 1 0 -7.30 0M192.0 171.3a3.65 3.65 0 1 0 7.30 0a3.65 3.65 0 1 0 -7.30 0M198.0 172.2a3.65 3.65 0 1 0 7.30 0a3.65 3.65 0 1 0 -7.30 0M204.1 172.6a3.65 3.65 0 1 0 7.30 0a3.65 3.65 0 1 0 -7.30 0M210.2 172.5a3.65 3.65 0 1 0 7.30 0a3.65 3.65 0 1 0 -7.30 0M216.2 172.4a3.65 3.65 0 1 0 7.30 0a3.65 3.65 0 1 0 -7.30 0M222.2 172.2a3.65 3.65 0 1 0 7.30 0a3.65 3.65 0 1 0 -7.30 0M228.3 171.8a3.65 3.65 0 1 0 7.30 0a3.65 3.65 0 1 0 -7.30 0M234.3 171.6a3.65 3.65 0 1 0 7.30 0a3.65 3.65 0 1 0 -7.30 0M240.4 171.8a3.65 3.65 0 1 0 7.30 0a3.65 3.65 0 1 0 -7.30 0M246.4 172.1a3.65 3.65 0 1 0 7.30 0a3.65 3.65 0 1 0 -7.30 0M252.5 172.3a3.65 3.65 0 1 0 7.30 0a3.65 3.65 0 1 0 -7.30 0M258.6 172.4a3.65 3.65 0 1 0 7.30 0a3.65 3.65 0 1 0 -7.30 0M264.6 172.4a3.65 3.65 0 1 0 7.30 0a3.65 3.65 0 1 0 -7.30 0M270.6 172.5a3.65 3.65 0 1 0 7.30 0a3.65 3.65 0 1 0 -7.30 0M276.7 172.5a3.65 3.65 0 1 0 7.30 0a3.65 3.65 0 1 0 -7.30 0M282.8 172.6a3.65 3.65 0 1 0 7.30 0a3.65 3.65 0 1 0 -7.30 0M288.8 172.6a3.65 3.65 0 1 0 7.30 0a3.65 3.65 0 1 0 -7.30 0M294.9 172.6a3.65 3.65 0 1 0 7.30 0a3.65 3.65 0 1 0 -7.30 0M300.9 172.6a3.65 3.65 0 1 0 7.30 0a3.65 3.65 0 1 0 -7.30 0M307.0 172.6a3.65 3.65 0 1 0 7.30 0a3.65 3.65 0 1 0 -7.30 0M313.0 172.6a3.65 3.65 0 1 0 7.30 0a3.65 3.65 0 1 0 -7.30 0M319.1 172.6a3.65 3.65 0 1 0 7.30 0a3.65 3.65 0 1 0 -7.30 0M325.1 172.6a3.65 3.65 0 1 0 7.30 0a3.65 3.65 0 1 0 -7.30 0M331.2 172.6a3.65 3.65 0 1 0 7.30 0a3.65 3.65 0 1 0 -7.30 0M337.2 172.6a3.65 3.65 0 1 0 7.30 0a3.65 3.65 0 1 0 -7.30 0M343.2 172.6a3.65 3.65 0 1 0 7.30 0a3.65 3.65 0 1 0 -7.30 0M349.3 172.6a3.65 3.65 0 1 0 7.30 0a3.65 3.65 0 1 0 -7.30 0M355.4 172.6a3.65 3.65 0 1 0 7.30 0a3.65 3.65 0 1 0 -7.30 0M361.4 172.6a3.65 3.65 0 1 0 7.30 0a3.65 3.65 0 1 0 -7.30 0M367.5 172.6a3.65 3.65 0 1 0 7.30 0a3.65 3.65 0 1 0 -7.30 0M373.5 172.6a3.65 3.65 0 1 0 7.30 0a3.65 3.65 0 1 0 -7.30 0M379.6 172.6a3.65 3.65 0 1 0 7.30 0a3.65 3.65 0 1 0 -7.30 0M385.6 172.6a3.65 3.65 0 1 0 7.30 0a3.65 3.65 0 1 0 -7.30 0M391.7 172.6a3.65 3.65 0 1 0 7.30 0a3.65 3.65 0 1 0 -7.30 0M397.7 172.6a3.65 3.65 0 1 0 7.30 0a3.65 3.65 0 1 0 -7.30 0M403.8 172.6a3.65 3.65 0 1 0 7.30 0a3.65 3.65 0 1 0 -7.30 0M409.8 172.6a3.65 3.65 0 1 0 7.30 0a3.65 3.65 0 1 0 -7.30 0M415.9 172.6a3.65 3.65 0 1 0 7.30 0a3.65 3.65 0 1 0 -7.30 0M421.9 172.6a3.65 3.65 0 1 0 7.30 0a3.65 3.65 0 1 0 -7.30 0M428.0 172.6a3.65 3.65 0 1 0 7.30 0a3.65 3.65 0 1 0 -7.30 0M434.0 172.6a3.65 3.65 0 1 0 7.30 0a3.65 3.65 0 1 0 -7.30 0M440.1 172.6a3.65 3.65 0 1 0 7.30 0a3.65 3.65 0 1 0 -7.30 0M446.1 172.6a3.65 3.65 0 1 0 7.30 0a3.65 3.65 0 1 0 -7.30 0M452.2 172.6a3.65 3.65 0 1 0 7.30 0a3.65 3.65 0 1 0 -7.30 0M458.2 171.8a3.65 3.65 0 1 0 7.30 0a3.65 3.65 0 1 0 -7.30 0M464.3 171.0a3.65 3.65 0 1 0 7.30 0a3.65 3.65 0 1 0 -7.30 0M470.3 170.9a3.65 3.65 0 1 0 7.30 0a3.65 3.65 0 1 0 -7.30 0M476.4 170.9a3.65 3.65 0 1 0 7.30 0a3.65 3.65 0 1 0 -7.30 0M482.4 170.8a3.65 3.65 0 1 0 7.30 0a3.65 3.65 0 1 0 -7.30 0M488.4 170.8a3.65 3.65 0 1 0 7.30 0a3.65 3.65 0 1 0 -7.30 0M494.5 170.7a3.65 3.65 0 1 0 7.30 0a3.65 3.65 0 1 0 -7.30 0M500.6 170.7a3.65 3.65 0 1 0 7.30 0a3.65 3.65 0 1 0 -7.30 0M506.6 170.7a3.65 3.65 0 1 0 7.30 0a3.65 3.65 0 1 0 -7.30 0M512.6 170.7a3.65 3.65 0 1 0 7.30 0a3.65 3.65 0 1 0 -7.30 0M518.7 170.7a3.65 3.65 0 1 0 7.30 0a3.65 3.65 0 1 0 -7.30 0M524.8 170.7a3.65 3.65 0 1 0 7.30 0a3.65 3.65 0 1 0 -7.30 0M530.8 170.7a3.65 3.65 0 1 0 7.30 0a3.65 3.65 0 1 0 -7.30 0M536.9 170.7a3.65 3.65 0 1 0 7.30 0a3.65 3.65 0 1 0 -7.30 0M542.9 170.7a3.65 3.65 0 1 0 7.30 0a3.65 3.65 0 1 0 -7.30 0M548.9 170.7a3.65 3.65 0 1 0 7.30 0a3.65 3.65 0 1 0 -7.30 0M555.0 170.7a3.65 3.65 0 1 0 7.30 0a3.65 3.65 0 1 0 -7.30 0M561.1 170.7a3.65 3.65 0 1 0 7.30 0a3.65 3.65 0 1 0 -7.30 0M567.1 170.7a3.65 3.65 0 1 0 7.30 0a3.65 3.65 0 1 0 -7.30 0M573.1 170.7a3.65 3.65 0 1 0 7.30 0a3.65 3.65 0 1 0 -7.30 0M579.2 170.7a3.65 3.65 0 1 0 7.30 0a3.65 3.65 0 1 0 -7.30 0M585.2 170.7a3.65 3.65 0 1 0 7.30 0a3.65 3.65 0 1 0 -7.30 0M591.3 170.7a3.65 3.65 0 1 0 7.30 0a3.65 3.65 0 1 0 -7.30 0M597.4 170.7a3.65 3.65 0 1 0 7.30 0a3.65 3.65 0 1 0 -7.30 0M603.4 170.7a3.65 3.65 0 1 0 7.30 0a3.65 3.65 0 1 0 -7.30 0M609.5 170.7a3.65 3.65 0 1 0 7.30 0a3.65 3.65 0 1 0 -7.30 0M615.5 170.7a3.65 3.65 0 1 0 7.30 0a3.65 3.65 0 1 0 -7.30 0M621.5 170.8a3.65 3.65 0 1 0 7.30 0a3.65 3.65 0 1 0 -7.30 0M627.6 170.9a3.65 3.65 0 1 0 7.30 0a3.65 3.65 0 1 0 -7.30 0M633.6 170.9a3.65 3.65 0 1 0 7.30 0a3.65 3.65 0 1 0 -7.30 0M639.7 171.0a3.65 3.65 0 1 0 7.30 0a3.65 3.65 0 1 0 -7.30 0M645.8 171.1a3.65 3.65 0 1 0 7.30 0a3.65 3.65 0 1 0 -7.30 0M651.8 171.2a3.65 3.65 0 1 0 7.30 0a3.65 3.65 0 1 0 -7.30 0M657.9 171.3a3.65 3.65 0 1 0 7.30 0a3.65 3.65 0 1 0 -7.30 0" fill="none" stroke="#7E2F8E" stroke-width="3.10"/>
</g>
<rect x="510.4" y="19.4" width="139" height="107.8" fill="#fff" stroke="#262626" stroke-width="1.5"/>
<path d="M516.9 34.3H561.5" stroke="#0072BD" stroke-width="2.6"/>
<circle cx="539.2" cy="34.3" r="3.9" fill="none" stroke="#0072BD" stroke-width="2.4"/>
<text x="567.2" y="41.1" class="l">Total</text>
<path d="M516.9 60.1H561.5" stroke="#D95319" stroke-width="2.6"/>
<circle cx="539.2" cy="60.1" r="3.9" fill="none" stroke="#D95319" stroke-width="2.4"/>
<text x="567.2" y="66.9" class="l">Leonard</text>
<path d="M516.9 85.9H561.5" stroke="#EDB120" stroke-width="2.6"/>
<circle cx="539.2" cy="85.9" r="3.9" fill="none" stroke="#EDB120" stroke-width="2.4"/>
<text x="567.2" y="92.7" class="l">Cross</text>
<path d="M516.9 111.7H561.5" stroke="#7E2F8E" stroke-width="2.6"/>
<circle cx="539.2" cy="111.7" r="3.9" fill="none" stroke="#7E2F8E" stroke-width="2.4"/>
<text x="567.2" y="118.5" class="l">Subfilter</text>
<rect x="262.2" y="327.9" width="193.6" height="226.3" fill="#E8E8FE"/>
<path d="M55.85 326.00H662.15M55.85 554.20H662.15" stroke="#262626" stroke-width="1.6" fill="none"/>
<path d="M56.50 325.20V555.00M661.50 325.20V555.00" stroke="#262626" stroke-width="1.3" fill="none"/>
<path d="M56.5 554.2V549.7M56.5 326.0V330.5M177.5 554.2V549.7M177.5 326.0V330.5M298.5 554.2V549.7M298.5 326.0V330.5M419.5 554.2V549.7M419.5 326.0V330.5M540.5 554.2V549.7M540.5 326.0V330.5M661.5 554.2V549.7M661.5 326.0V330.5M56.5 554.9H61.0M661.5 554.9H657.0M56.5 489.7H61.0M661.5 489.7H657.0M56.5 424.5H61.0M661.5 424.5H657.0M56.5 359.3H61.0M661.5 359.3H657.0" stroke="#262626" stroke-width="1.3" fill="none"/>
<text x="56.5" y="585.6" text-anchor="middle" class="t">0</text>
<text x="177.5" y="585.6" text-anchor="middle" class="t">20</text>
<text x="298.5" y="585.6" text-anchor="middle" class="t">40</text>
<text x="419.5" y="585.6" text-anchor="middle" class="t">60</text>
<text x="540.5" y="585.6" text-anchor="middle" class="t">80</text>
<text x="661.5" y="585.6" text-anchor="middle" class="t">100</text>
<text x="48.0" y="563.5" text-anchor="end" class="t">-200</text>
<text x="48.0" y="498.3" text-anchor="end" class="t">0</text>
<text x="48.0" y="433.1" text-anchor="end" class="t">200</text>
<text x="48.0" y="367.9" text-anchor="end" class="t">400</text>
<g filter="url(#bl)">
<path d="M62.5 488.7 L68.6 488.2 L74.7 487.6 L80.7 487.0 L86.8 486.4 L92.8 485.8 L98.8 485.2 L104.9 484.5 L110.9 483.9 L117.0 483.2 L123.0 482.5 L129.1 481.7 L135.2 481.0 L141.2 480.2 L147.2 479.3 L153.3 478.2 L159.4 477.1 L165.4 475.9 L171.4 474.6 L177.5 473.4 L183.6 472.2 L189.6 470.9 L195.7 469.6 L201.7 468.5 L207.8 467.5 L213.8 466.8 L219.9 466.3 L225.9 465.6 L231.9 464.7 L238.0 463.6 L244.1 462.3 L250.1 459.7 L256.1 454.5 L262.2 447.6 L268.2 440.3 L274.3 433.3 L280.4 426.1 L286.4 417.3 L292.5 409.0 L298.5 400.4 L304.5 390.4 L310.6 383.1 L316.6 376.9 L322.7 372.5 L328.8 370.1 L334.8 369.1 L340.8 369.6 L346.9 372.0 L352.9 377.2 L359.0 383.2 L365.1 384.7 L371.1 385.4 L377.2 385.9 L383.2 386.7 L389.2 391.0 L395.3 396.8 L401.3 401.7 L407.4 408.3 L413.4 417.6 L419.5 432.0 L425.6 448.3 L431.6 457.2 L437.6 467.6 L443.7 479.6 L449.8 489.7 L455.8 499.9 L461.9 503.8 L467.9 504.7 L473.9 504.6 L480.0 504.4 L486.0 503.9 L492.1 503.4 L498.1 502.9 L504.2 502.3 L510.2 501.8 L516.3 501.2 L522.4 500.6 L528.4 500.0 L534.5 499.4 L540.5 498.8 L546.5 498.3 L552.6 497.9 L558.6 497.4 L564.7 497.0 L570.8 496.5 L576.8 496.1 L582.9 495.7 L588.9 495.4 L595.0 495.0 L601.0 494.6 L607.1 494.2 L613.1 493.8 L619.1 493.4 L625.2 493.0 L631.2 492.6 L637.3 492.3 L643.4 491.9 L649.4 491.6 L655.5 491.3 L661.5 491.0" fill="none" stroke="#0072BD" stroke-width="2.00" stroke-linejoin="round"/>
<path d="M58.9 488.7a3.65 3.65 0 1 0 7.30 0a3.65 3.65 0 1 0 -7.30 0M64.9 488.2a3.65 3.65 0 1 0 7.30 0a3.65 3.65 0 1 0 -7.30 0M71.0 487.6a3.65 3.65 0 1 0 7.30 0a3.65 3.65 0 1 0 -7.30 0M77.0 487.0a3.65 3.65 0 1 0 7.30 0a3.65 3.65 0 1 0 -7.30 0M83.1 486.4a3.65 3.65 0 1 0 7.30 0a3.65 3.65 0 1 0 -7.30 0M89.1 485.8a3.65 3.65 0 1 0 7.30 0a3.65 3.65 0 1 0 -7.30 0M95.2 485.2a3.65 3.65 0 1 0 7.30 0a3.65 3.65 0 1 0 -7.30 0M101.2 484.5a3.65 3.65 0 1 0 7.30 0a3.65 3.65 0 1 0 -7.30 0M107.3 483.9a3.65 3.65 0 1 0 7.30 0a3.65 3.65 0 1 0 -7.30 0M113.3 483.2a3.65 3.65 0 1 0 7.30 0a3.65 3.65 0 1 0 -7.30 0M119.4 482.5a3.65 3.65 0 1 0 7.30 0a3.65 3.65 0 1 0 -7.30 0M125.4 481.7a3.65 3.65 0 1 0 7.30 0a3.65 3.65 0 1 0 -7.30 0M131.5 481.0a3.65 3.65 0 1 0 7.30 0a3.65 3.65 0 1 0 -7.30 0M137.5 480.2a3.65 3.65 0 1 0 7.30 0a3.65 3.65 0 1 0 -7.30 0M143.6 479.3a3.65 3.65 0 1 0 7.30 0a3.65 3.65 0 1 0 -7.30 0M149.7 478.2a3.65 3.65 0 1 0 7.30 0a3.65 3.65 0 1 0 -7.30 0M155.7 477.1a3.65 3.65 0 1 0 7.30 0a3.65 3.65 0 1 0 -7.30 0M161.7 475.9a3.65 3.65 0 1 0 7.30 0a3.65 3.65 0 1 0 -7.30 0M167.8 474.6a3.65 3.65 0 1 0 7.30 0a3.65 3.65 0 1 0 -7.30 0M173.8 473.4a3.65 3.65 0 1 0 7.30 0a3.65 3.65 0 1 0 -7.30 0M179.9 472.2a3.65 3.65 0 1 0 7.30 0a3.65 3.65 0 1 0 -7.30 0M185.9 470.9a3.65 3.65 0 1 0 7.30 0a3.65 3.65 0 1 0 -7.30 0M192.0 469.6a3.65 3.65 0 1 0 7.30 0a3.65 3.65 0 1 0 -7.30 0M198.0 468.5a3.65 3.65 0 1 0 7.30 0a3.65 3.65 0 1 0 -7.30 0M204.1 467.5a3.65 3.65 0 1 0 7.30 0a3.65 3.65 0 1 0 -7.30 0M210.2 466.8a3.65 3.65 0 1 0 7.30 0a3.65 3.65 0 1 0 -7.30 0M216.2 466.3a3.65 3.65 0 1 0 7.30 0a3.65 3.65 0 1 0 -7.30 0M222.2 465.6a3.65 3.65 0 1 0 7.30 0a3.65 3.65 0 1 0 -7.30 0M228.3 464.7a3.65 3.65 0 1 0 7.30 0a3.65 3.65 0 1 0 -7.30 0M234.3 463.6a3.65 3.65 0 1 0 7.30 0a3.65 3.65 0 1 0 -7.30 0M240.4 462.3a3.65 3.65 0 1 0 7.30 0a3.65 3.65 0 1 0 -7.30 0M246.4 459.7a3.65 3.65 0 1 0 7.30 0a3.65 3.65 0 1 0 -7.30 0M252.5 454.5a3.65 3.65 0 1 0 7.30 0a3.65 3.65 0 1 0 -7.30 0M258.6 447.6a3.65 3.65 0 1 0 7.30 0a3.65 3.65 0 1 0 -7.30 0M264.6 440.3a3.65 3.65 0 1 0 7.30 0a3.65 3.65 0 1 0 -7.30 0M270.6 433.3a3.65 3.65 0 1 0 7.30 0a3.65 3.65 0 1 0 -7.30 0M276.7 426.1a3.65 3.65 0 1 0 7.30 0a3.65 3.65 0 1 0 -7.30 0M282.8 417.3a3.65 3.65 0 1 0 7.30 0a3.65 3.65 0 1 0 -7.30 0M288.8 409.0a3.65 3.65 0 1 0 7.30 0a3.65 3.65 0 1 0 -7.30 0M294.9 400.4a3.65 3.65 0 1 0 7.30 0a3.65 3.65 0 1 0 -7.30 0M300.9 390.4a3.65 3.65 0 1 0 7.30 0a3.65 3.65 0 1 0 -7.30 0M307.0 383.1a3.65 3.65 0 1 0 7.30 0a3.65 3.65 0 1 0 -7.30 0M313.0 376.9a3.65 3.65 0 1 0 7.30 0a3.65 3.65 0 1 0 -7.30 0M319.1 372.5a3.65 3.65 0 1 0 7.30 0a3.65 3.65 0 1 0 -7.30 0M325.1 370.1a3.65 3.65 0 1 0 7.30 0a3.65 3.65 0 1 0 -7.30 0M331.2 369.1a3.65 3.65 0 1 0 7.30 0a3.65 3.65 0 1 0 -7.30 0M337.2 369.6a3.65 3.65 0 1 0 7.30 0a3.65 3.65 0 1 0 -7.30 0M343.2 372.0a3.65 3.65 0 1 0 7.30 0a3.65 3.65 0 1 0 -7.30 0M349.3 377.2a3.65 3.65 0 1 0 7.30 0a3.65 3.65 0 1 0 -7.30 0M355.4 383.2a3.65 3.65 0 1 0 7.30 0a3.65 3.65 0 1 0 -7.30 0M361.4 384.7a3.65 3.65 0 1 0 7.30 0a3.65 3.65 0 1 0 -7.30 0M367.5 385.4a3.65 3.65 0 1 0 7.30 0a3.65 3.65 0 1 0 -7.30 0M373.5 385.9a3.65 3.65 0 1 0 7.30 0a3.65 3.65 0 1 0 -7.30 0M379.6 386.7a3.65 3.65 0 1 0 7.30 0a3.65 3.65 0 1 0 -7.30 0M385.6 391.0a3.65 3.65 0 1 0 7.30 0a3.65 3.65 0 1 0 -7.30 0M391.7 396.8a3.65 3.65 0 1 0 7.30 0a3.65 3.65 0 1 0 -7.30 0M397.7 401.7a3.65 3.65 0 1 0 7.30 0a3.65 3.65 0 1 0 -7.30 0M403.8 408.3a3.65 3.65 0 1 0 7.30 0a3.65 3.65 0 1 0 -7.30 0M409.8 417.6a3.65 3.65 0 1 0 7.30 0a3.65 3.65 0 1 0 -7.30 0M415.9 432.0a3.65 3.65 0 1 0 7.30 0a3.65 3.65 0 1 0 -7.30 0M421.9 448.3a3.65 3.65 0 1 0 7.30 0a3.65 3.65 0 1 0 -7.30 0M428.0 457.2a3.65 3.65 0 1 0 7.30 0a3.65 3.65 0 1 0 -7.30 0M434.0 467.6a3.65 3.65 0 1 0 7.30 0a3.65 3.65 0 1 0 -7.30 0M440.1 479.6a3.65 3.65 0 1 0 7.30 0a3.65 3.65 0 1 0 -7.30 0M446.1 489.7a3.65 3.65 0 1 0 7.30 0a3.65 3.65 0 1 0 -7.30 0M452.2 499.9a3.65 3.65 0 1 0 7.30 0a3.65 3.65 0 1 0 -7.30 0M458.2 503.8a3.65 3.65 0 1 0 7.30 0a3.65 3.65 0 1 0 -7.30 0M464.3 504.7a3.65 3.65 0 1 0 7.30 0a3.65 3.65 0 1 0 -7.30 0M470.3 504.6a3.65 3.65 0 1 0 7.30 0a3.65 3.65 0 1 0 -7.30 0M476.4 504.4a3.65 3.65 0 1 0 7.30 0a3.65 3.65 0 1 0 -7.30 0M482.4 503.9a3.65 3.65 0 1 0 7.30 0a3.65 3.65 0 1 0 -7.30 0M488.4 503.4a3.65 3.65 0 1 0 7.30 0a3.65 3.65 0 1 0 -7.30 0M494.5 502.9a3.65 3.65 0 1 0 7.30 0a3.65 3.65 0 1 0 -7.30 0M500.6 502.3a3.65 3.65 0 1 0 7.30 0a3.65 3.65 0 1 0 -7.30 0M506.6 501.8a3.65 3.65 0 1 0 7.30 0a3.65 3.65 0 1 0 -7.30 0M512.6 501.2a3.65 3.65 0 1 0 7.30 0a3.65 3.65 0 1 0 -7.30 0M518.7 500.6a3.65 3.65 0 1 0 7.30 0a3.65 3.65 0 1 0 -7.30 0M524.8 500.0a3.65 3.65 0 1 0 7.30 0a3.65 3.65 0 1 0 -7.30 0M530.8 499.4a3.65 3.65 0 1 0 7.30 0a3.65 3.65 0 1 0 -7.30 0M536.9 498.8a3.65 3.65 0 1 0 7.30 0a3.65 3.65 0 1 0 -7.30 0M542.9 498.3a3.65 3.65 0 1 0 7.30 0a3.65 3.65 0 1 0 -7.30 0M548.9 497.9a3.65 3.65 0 1 0 7.30 0a3.65 3.65 0 1 0 -7.30 0M555.0 497.4a3.65 3.65 0 1 0 7.30 0a3.65 3.65 0 1 0 -7.30 0M561.1 497.0a3.65 3.65 0 1 0 7.30 0a3.65 3.65 0 1 0 -7.30 0M567.1 496.5a3.65 3.65 0 1 0 7.30 0a3.65 3.65 0 1 0 -7.30 0M573.1 496.1a3.65 3.65 0 1 0 7.30 0a3.65 3.65 0 1 0 -7.30 0M579.2 495.7a3.65 3.65 0 1 0 7.30 0a3.65 3.65 0 1 0 -7.30 0M585.2 495.4a3.65 3.65 0 1 0 7.30 0a3.65 3.65 0 1 0 -7.30 0M591.3 495.0a3.65 3.65 0 1 0 7.30 0a3.65 3.65 0 1 0 -7.30 0M597.4 494.6a3.65 3.65 0 1 0 7.30 0a3.65 3.65 0 1 0 -7.30 0M603.4 494.2a3.65 3.65 0 1 0 7.30 0a3.65 3.65 0 1 0 -7.30 0M609.5 493.8a3.65 3.65 0 1 0 7.30 0a3.65 3.65 0 1 0 -7.30 0M615.5 493.4a3.65 3.65 0 1 0 7.30 0a3.65 3.65 0 1 0 -7.30 0M621.5 493.0a3.65 3.65 0 1 0 7.30 0a3.65 3.65 0 1 0 -7.30 0M627.6 492.6a3.65 3.65 0 1 0 7.30 0a3.65 3.65 0 1 0 -7.30 0M633.6 492.3a3.65 3.65 0 1 0 7.30 0a3.65 3.65 0 1 0 -7.30 0M639.7 491.9a3.65 3.65 0 1 0 7.30 0a3.65 3.65 0 1 0 -7.30 0M645.8 491.6a3.65 3.65 0 1 0 7.30 0a3.65 3.65 0 1 0 -7.30 0M651.8 491.3a3.65 3.65 0 1 0 7.30 0a3.65 3.65 0 1 0 -7.30 0M657.9 491.0a3.65 3.65 0 1 0 7.30 0a3.65 3.65 0 1 0 -7.30 0" fill="none" stroke="#0072BD" stroke-width="3.10"/>
<path d="M62.5 490.4 L68.6 490.4 L74.7 490.5 L80.7 490.5 L86.8 490.5 L92.8 490.6 L98.8 490.6 L104.9 490.6 L110.9 490.6 L117.0 490.7 L123.0 490.7 L129.1 490.7 L135.2 490.7 L141.2 490.7 L147.2 490.7 L153.3 490.7 L159.4 490.7 L165.4 490.2 L171.4 489.3 L177.5 488.7 L183.6 488.7 L189.6 488.6 L195.7 488.6 L201.7 488.5 L207.8 488.5 L213.8 488.5 L219.9 488.5 L225.9 488.4 L231.9 488.4 L238.0 488.4 L244.1 488.4 L250.1 488.4 L256.1 488.4 L262.2 488.5 L268.2 488.7 L274.3 489.1 L280.4 489.4 L286.4 489.7 L292.5 489.9 L298.5 490.2 L304.5 490.4 L310.6 490.7 L316.6 490.9 L322.7 491.1 L328.8 491.4 L334.8 491.7 L340.8 492.0 L346.9 492.3 L352.9 492.6 L359.0 493.0 L365.1 493.3 L371.1 493.6 L377.2 493.9 L383.2 494.2 L389.2 494.6 L395.3 495.0 L401.3 495.4 L407.4 495.8 L413.4 496.2 L419.5 496.5 L425.6 496.8 L431.6 497.1 L437.6 497.3 L443.7 497.5 L449.8 497.5 L455.8 497.1 L461.9 496.2 L467.9 495.3 L473.9 494.3 L480.0 493.6 L486.0 493.2 L492.1 492.9 L498.1 492.6 L504.2 492.4 L510.2 492.3 L516.3 492.2 L522.4 492.1 L528.4 492.0 L534.5 491.9 L540.5 491.8 L546.5 491.8 L552.6 491.7 L558.6 491.6 L564.7 491.5 L570.8 491.5 L576.8 491.4 L582.9 491.4 L588.9 491.3 L595.0 491.3 L601.0 491.2 L607.1 491.2 L613.1 491.1 L619.1 491.1 L625.2 491.1 L631.2 491.1 L637.3 491.0 L643.4 491.0 L649.4 491.0 L655.5 491.0 L661.5 491.0" fill="none" stroke="#D95319" stroke-width="2.00" stroke-linejoin="round"/>
<path d="M58.9 490.4a3.65 3.65 0 1 0 7.30 0a3.65 3.65 0 1 0 -7.30 0M64.9 490.4a3.65 3.65 0 1 0 7.30 0a3.65 3.65 0 1 0 -7.30 0M71.0 490.5a3.65 3.65 0 1 0 7.30 0a3.65 3.65 0 1 0 -7.30 0M77.0 490.5a3.65 3.65 0 1 0 7.30 0a3.65 3.65 0 1 0 -7.30 0M83.1 490.5a3.65 3.65 0 1 0 7.30 0a3.65 3.65 0 1 0 -7.30 0M89.1 490.6a3.65 3.65 0 1 0 7.30 0a3.65 3.65 0 1 0 -7.30 0M95.2 490.6a3.65 3.65 0 1 0 7.30 0a3.65 3.65 0 1 0 -7.30 0M101.2 490.6a3.65 3.65 0 1 0 7.30 0a3.65 3.65 0 1 0 -7.30 0M107.3 490.6a3.65 3.65 0 1 0 7.30 0a3.65 3.65 0 1 0 -7.30 0M113.3 490.7a3.65 3.65 0 1 0 7.30 0a3.65 3.65 0 1 0 -7.30 0M119.4 490.7a3.65 3.65 0 1 0 7.30 0a3.65 3.65 0 1 0 -7.30 0M125.4 490.7a3.65 3.65 0 1 0 7.30 0a3.65 3.65 0 1 0 -7.30 0M131.5 490.7a3.65 3.65 0 1 0 7.30 0a3.65 3.65 0 1 0 -7.30 0M137.5 490.7a3.65 3.65 0 1 0 7.30 0a3.65 3.65 0 1 0 -7.30 0M143.6 490.7a3.65 3.65 0 1 0 7.30 0a3.65 3.65 0 1 0 -7.30 0M149.7 490.7a3.65 3.65 0 1 0 7.30 0a3.65 3.65 0 1 0 -7.30 0M155.7 490.7a3.65 3.65 0 1 0 7.30 0a3.65 3.65 0 1 0 -7.30 0M161.7 490.2a3.65 3.65 0 1 0 7.30 0a3.65 3.65 0 1 0 -7.30 0M167.8 489.3a3.65 3.65 0 1 0 7.30 0a3.65 3.65 0 1 0 -7.30 0M173.8 488.7a3.65 3.65 0 1 0 7.30 0a3.65 3.65 0 1 0 -7.30 0M179.9 488.7a3.65 3.65 0 1 0 7.30 0a3.65 3.65 0 1 0 -7.30 0M185.9 488.6a3.65 3.65 0 1 0 7.30 0a3.65 3.65 0 1 0 -7.30 0M192.0 488.6a3.65 3.65 0 1 0 7.30 0a3.65 3.65 0 1 0 -7.30 0M198.0 488.5a3.65 3.65 0 1 0 7.30 0a3.65 3.65 0 1 0 -7.30 0M204.1 488.5a3.65 3.65 0 1 0 7.30 0a3.65 3.65 0 1 0 -7.30 0M210.2 488.5a3.65 3.65 0 1 0 7.30 0a3.65 3.65 0 1 0 -7.30 0M216.2 488.5a3.65 3.65 0 1 0 7.30 0a3.65 3.65 0 1 0 -7.30 0M222.2 488.4a3.65 3.65 0 1 0 7.30 0a3.65 3.65 0 1 0 -7.30 0M228.3 488.4a3.65 3.65 0 1 0 7.30 0a3.65 3.65 0 1 0 -7.30 0M234.3 488.4a3.65 3.65 0 1 0 7.30 0a3.65 3.65 0 1 0 -7.30 0M240.4 488.4a3.65 3.65 0 1 0 7.30 0a3.65 3.65 0 1 0 -7.30 0M246.4 488.4a3.65 3.65 0 1 0 7.30 0a3.65 3.65 0 1 0 -7.30 0M252.5 488.4a3.65 3.65 0 1 0 7.30 0a3.65 3.65 0 1 0 -7.30 0M258.6 488.5a3.65 3.65 0 1 0 7.30 0a3.65 3.65 0 1 0 -7.30 0M264.6 488.7a3.65 3.65 0 1 0 7.30 0a3.65 3.65 0 1 0 -7.30 0M270.6 489.1a3.65 3.65 0 1 0 7.30 0a3.65 3.65 0 1 0 -7.30 0M276.7 489.4a3.65 3.65 0 1 0 7.30 0a3.65 3.65 0 1 0 -7.30 0M282.8 489.7a3.65 3.65 0 1 0 7.30 0a3.65 3.65 0 1 0 -7.30 0M288.8 489.9a3.65 3.65 0 1 0 7.30 0a3.65 3.65 0 1 0 -7.30 0M294.9 490.2a3.65 3.65 0 1 0 7.30 0a3.65 3.65 0 1 0 -7.30 0M300.9 490.4a3.65 3.65 0 1 0 7.30 0a3.65 3.65 0 1 0 -7.30 0M307.0 490.7a3.65 3.65 0 1 0 7.30 0a3.65 3.65 0 1 0 -7.30 0M313.0 490.9a3.65 3.65 0 1 0 7.30 0a3.65 3.65 0 1 0 -7.30 0M319.1 491.1a3.65 3.65 0 1 0 7.30 0a3.65 3.65 0 1 0 -7.30 0M325.1 491.4a3.65 3.65 0 1 0 7.30 0a3.65 3.65 0 1 0 -7.30 0M331.2 491.7a3.65 3.65 0 1 0 7.30 0a3.65 3.65 0 1 0 -7.30 0M337.2 492.0a3.65 3.65 0 1 0 7.30 0a3.65 3.65 0 1 0 -7.30 0M343.2 492.3a3.65 3.65 0 1 0 7.30 0a3.65 3.65 0 1 0 -7.30 0M349.3 492.6a3.65 3.65 0 1 0 7.30 0a3.65 3.65 0 1 0 -7.30 0M355.4 493.0a3.65 3.65 0 1 0 7.30 0a3.65 3.65 0 1 0 -7.30 0M361.4 493.3a3.65 3.65 0 1 0 7.30 0a3.65 3.65 0 1 0 -7.30 0M367.5 493.6a3.65 3.65 0 1 0 7.30 0a3.65 3.65 0 1 0 -7.30 0M373.5 493.9a3.65 3.65 0 1 0 7.30 0a3.65 3.65 0 1 0 -7.30 0M379.6 494.2a3.65 3.65 0 1 0 7.30 0a3.65 3.65 0 1 0 -7.30 0M385.6 494.6a3.65 3.65 0 1 0 7.30 0a3.65 3.65 0 1 0 -7.30 0M391.7 495.0a3.65 3.65 0 1 0 7.30 0a3.65 3.65 0 1 0 -7.30 0M397.7 495.4a3.65 3.65 0 1 0 7.30 0a3.65 3.65 0 1 0 -7.30 0M403.8 495.8a3.65 3.65 0 1 0 7.30 0a3.65 3.65 0 1 0 -7.30 0M409.8 496.2a3.65 3.65 0 1 0 7.30 0a3.65 3.65 0 1 0 -7.30 0M415.9 496.5a3.65 3.65 0 1 0 7.30 0a3.65 3.65 0 1 0 -7.30 0M421.9 496.8a3.65 3.65 0 1 0 7.30 0a3.65 3.65 0 1 0 -7.30 0M428.0 497.1a3.65 3.65 0 1 0 7.30 0a3.65 3.65 0 1 0 -7.30 0M434.0 497.3a3.65 3.65 0 1 0 7.30 0a3.65 3.65 0 1 0 -7.30 0M440.1 497.5a3.65 3.65 0 1 0 7.30 0a3.65 3.65 0 1 0 -7.30 0M446.1 497.5a3.65 3.65 0 1 0 7.30 0a3.65 3.65 0 1 0 -7.30 0M452.2 497.1a3.65 3.65 0 1 0 7.30 0a3.65 3.65 0 1 0 -7.30 0M458.2 496.2a3.65 3.65 0 1 0 7.30 0a3.65 3.65 0 1 0 -7.30 0M464.3 495.3a3.65 3.65 0 1 0 7.30 0a3.65 3.65 0 1 0 -7.30 0M470.3 494.3a3.65 3.65 0 1 0 7.30 0a3.65 3.65 0 1 0 -7.30 0M476.4 493.6a3.65 3.65 0 1 0 7.30 0a3.65 3.65 0 1 0 -7.30 0M482.4 493.2a3.65 3.65 0 1 0 7.30 0a3.65 3.65 0 1 0 -7.30 0M488.4 492.9a3.65 3.65 0 1 0 7.30 0a3.65 3.65 0 1 0 -7.30 0M494.5 492.6a3.65 3.65 0 1 0 7.30 0a3.65 3.65 0 1 0 -7.30 0M500.6 492.4a3.65 3.65 0 1 0 7.30 0a3.65 3.65 0 1 0 -7.30 0M506.6 492.3a3.65 3.65 0 1 0 7.30 0a3.65 3.65 0 1 0 -7.30 0M512.6 492.2a3.65 3.65 0 1 0 7.30 0a3.65 3.65 0 1 0 -7.30 0M518.7 492.1a3.65 3.65 0 1 0 7.30 0a3.65 3.65 0 1 0 -7.30 0M524.8 492.0a3.65 3.65 0 1 0 7.30 0a3.65 3.65 0 1 0 -7.30 0M530.8 491.9a3.65 3.65 0 1 0 7.30 0a3.65 3.65 0 1 0 -7.30 0M536.9 491.8a3.65 3.65 0 1 0 7.30 0a3.65 3.65 0 1 0 -7.30 0M542.9 491.8a3.65 3.65 0 1 0 7.30 0a3.65 3.65 0 1 0 -7.30 0M548.9 491.7a3.65 3.65 0 1 0 7.30 0a3.65 3.65 0 1 0 -7.30 0M555.0 491.6a3.65 3.65 0 1 0 7.30 0a3.65 3.65 0 1 0 -7.30 0M561.1 491.5a3.65 3.65 0 1 0 7.30 0a3.65 3.65 0 1 0 -7.30 0M567.1 491.5a3.65 3.65 0 1 0 7.30 0a3.65 3.65 0 1 0 -7.30 0M573.1 491.4a3.65 3.65 0 1 0 7.30 0a3.65 3.65 0 1 0 -7.30 0M579.2 491.4a3.65 3.65 0 1 0 7.30 0a3.65 3.65 0 1 0 -7.30 0M585.2 491.3a3.65 3.65 0 1 0 7.30 0a3.65 3.65 0 1 0 -7.30 0M591.3 491.3a3.65 3.65 0 1 0 7.30 0a3.65 3.65 0 1 0 -7.30 0M597.4 491.2a3.65 3.65 0 1 0 7.30 0a3.65 3.65 0 1 0 -7.30 0M603.4 491.2a3.65 3.65 0 1 0 7.30 0a3.65 3.65 0 1 0 -7.30 0M609.5 491.1a3.65 3.65 0 1 0 7.30 0a3.65 3.65 0 1 0 -7.30 0M615.5 491.1a3.65 3.65 0 1 0 7.30 0a3.65 3.65 0 1 0 -7.30 0M621.5 491.1a3.65 3.65 0 1 0 7.30 0a3.65 3.65 0 1 0 -7.30 0M627.6 491.1a3.65 3.65 0 1 0 7.30 0a3.65 3.65 0 1 0 -7.30 0M633.6 491.0a3.65 3.65 0 1 0 7.30 0a3.65 3.65 0 1 0 -7.30 0M639.7 491.0a3.65 3.65 0 1 0 7.30 0a3.65 3.65 0 1 0 -7.30 0M645.8 491.0a3.65 3.65 0 1 0 7.30 0a3.65 3.65 0 1 0 -7.30 0M651.8 491.0a3.65 3.65 0 1 0 7.30 0a3.65 3.65 0 1 0 -7.30 0M657.9 491.0a3.65 3.65 0 1 0 7.30 0a3.65 3.65 0 1 0 -7.30 0" fill="none" stroke="#D95319" stroke-width="3.10"/>
<path d="M62.5 491.0 L68.6 491.0 L74.7 491.0 L80.7 491.0 L86.8 491.0 L92.8 491.0 L98.8 491.0 L104.9 491.0 L110.9 491.0 L117.0 491.0 L123.0 491.0 L129.1 491.0 L135.2 491.0 L141.2 491.0 L147.2 491.0 L153.3 491.0 L159.4 491.0 L165.4 491.0 L171.4 491.0 L177.5 491.0 L183.6 491.0 L189.6 491.0 L195.7 491.0 L201.7 491.0 L207.8 491.0 L213.8 491.0 L219.9 491.0 L225.9 491.0 L231.9 491.0 L238.0 491.0 L244.1 491.0 L250.1 491.0 L256.1 484.2 L262.2 474.1 L268.2 466.5 L274.3 458.4 L280.4 450.8 L286.4 444.1 L292.5 432.8 L298.5 422.1 L304.5 410.7 L310.6 398.7 L316.6 386.6 L322.7 374.3 L328.8 365.6 L334.8 363.7 L340.8 364.5 L346.9 368.9 L352.9 375.2 L359.0 383.0 L365.1 389.0 L371.1 391.5 L377.2 389.2 L383.2 388.4 L389.2 389.2 L395.3 391.0 L401.3 394.5 L407.4 400.4 L413.4 407.7 L419.5 422.9 L425.6 436.8 L431.6 445.7 L437.6 456.9 L443.7 469.2 L449.8 477.3 L455.8 493.4 L461.9 500.7 L467.9 502.7 L473.9 502.7 L480.0 502.7 L486.0 501.7 L492.1 500.6 L498.1 500.2 L504.2 499.9 L510.2 499.7 L516.3 499.6 L522.4 499.5 L528.4 499.1 L534.5 498.4 L540.5 497.9 L546.5 497.4 L552.6 497.0 L558.6 496.6 L564.7 496.2 L570.8 495.9 L576.8 495.6 L582.9 495.3 L588.9 495.1 L595.0 494.8 L601.0 494.6 L607.1 494.4 L613.1 494.1 L619.1 493.9 L625.2 493.6 L631.2 493.3 L637.3 493.0 L643.4 492.6 L649.4 492.2 L655.5 491.8 L661.5 491.3" fill="none" stroke="#EDB120" stroke-width="2.00" stroke-linejoin="round"/>
<path d="M58.9 491.0a3.65 3.65 0 1 0 7.30 0a3.65 3.65 0 1 0 -7.30 0M64.9 491.0a3.65 3.65 0 1 0 7.30 0a3.65 3.65 0 1 0 -7.30 0M71.0 491.0a3.65 3.65 0 1 0 7.30 0a3.65 3.65 0 1 0 -7.30 0M77.0 491.0a3.65 3.65 0 1 0 7.30 0a3.65 3.65 0 1 0 -7.30 0M83.1 491.0a3.65 3.65 0 1 0 7.30 0a3.65 3.65 0 1 0 -7.30 0M89.1 491.0a3.65 3.65 0 1 0 7.30 0a3.65 3.65 0 1 0 -7.30 0M95.2 491.0a3.65 3.65 0 1 0 7.30 0a3.65 3.65 0 1 0 -7.30 0M101.2 491.0a3.65 3.65 0 1 0 7.30 0a3.65 3.65 0 1 0 -7.30 0M107.3 491.0a3.65 3.65 0 1 0 7.30 0a3.65 3.65 0 1 0 -7.30 0M113.3 491.0a3.65 3.65 0 1 0 7.30 0a3.65 3.65 0 1 0 -7.30 0M119.4 491.0a3.65 3.65 0 1 0 7.30 0a3.65 3.65 0 1 0 -7.30 0M125.4 491.0a3.65 3.65 0 1 0 7.30 0a3.65 3.65 0 1 0 -7.30 0M131.5 491.0a3.65 3.65 0 1 0 7.30 0a3.65 3.65 0 1 0 -7.30 0M137.5 491.0a3.65 3.65 0 1 0 7.30 0a3.65 3.65 0 1 0 -7.30 0M143.6 491.0a3.65 3.65 0 1 0 7.30 0a3.65 3.65 0 1 0 -7.30 0M149.7 491.0a3.65 3.65 0 1 0 7.30 0a3.65 3.65 0 1 0 -7.30 0M155.7 491.0a3.65 3.65 0 1 0 7.30 0a3.65 3.65 0 1 0 -7.30 0M161.7 491.0a3.65 3.65 0 1 0 7.30 0a3.65 3.65 0 1 0 -7.30 0M167.8 491.0a3.65 3.65 0 1 0 7.30 0a3.65 3.65 0 1 0 -7.30 0M173.8 491.0a3.65 3.65 0 1 0 7.30 0a3.65 3.65 0 1 0 -7.30 0M179.9 491.0a3.65 3.65 0 1 0 7.30 0a3.65 3.65 0 1 0 -7.30 0M185.9 491.0a3.65 3.65 0 1 0 7.30 0a3.65 3.65 0 1 0 -7.30 0M192.0 491.0a3.65 3.65 0 1 0 7.30 0a3.65 3.65 0 1 0 -7.30 0M198.0 491.0a3.65 3.65 0 1 0 7.30 0a3.65 3.65 0 1 0 -7.30 0M204.1 491.0a3.65 3.65 0 1 0 7.30 0a3.65 3.65 0 1 0 -7.30 0M210.2 491.0a3.65 3.65 0 1 0 7.30 0a3.65 3.65 0 1 0 -7.30 0M216.2 491.0a3.65 3.65 0 1 0 7.30 0a3.65 3.65 0 1 0 -7.30 0M222.2 491.0a3.65 3.65 0 1 0 7.30 0a3.65 3.65 0 1 0 -7.30 0M228.3 491.0a3.65 3.65 0 1 0 7.30 0a3.65 3.65 0 1 0 -7.30 0M234.3 491.0a3.65 3.65 0 1 0 7.30 0a3.65 3.65 0 1 0 -7.30 0M240.4 491.0a3.65 3.65 0 1 0 7.30 0a3.65 3.65 0 1 0 -7.30 0M246.4 491.0a3.65 3.65 0 1 0 7.30 0a3.65 3.65 0 1 0 -7.30 0M252.5 484.2a3.65 3.65 0 1 0 7.30 0a3.65 3.65 0 1 0 -7.30 0M258.6 474.1a3.65 3.65 0 1 0 7.30 0a3.65 3.65 0 1 0 -7.30 0M264.6 466.5a3.65 3.65 0 1 0 7.30 0a3.65 3.65 0 1 0 -7.30 0M270.6 458.4a3.65 3.65 0 1 0 7.30 0a3.65 3.65 0 1 0 -7.30 0M276.7 450.8a3.65 3.65 0 1 0 7.30 0a3.65 3.65 0 1 0 -7.30 0M282.8 444.1a3.65 3.65 0 1 0 7.30 0a3.65 3.65 0 1 0 -7.30 0M288.8 432.8a3.65 3.65 0 1 0 7.30 0a3.65 3.65 0 1 0 -7.30 0M294.9 422.1a3.65 3.65 0 1 0 7.30 0a3.65 3.65 0 1 0 -7.30 0M300.9 410.7a3.65 3.65 0 1 0 7.30 0a3.65 3.65 0 1 0 -7.30 0M307.0 398.7a3.65 3.65 0 1 0 7.30 0a3.65 3.65 0 1 0 -7.30 0M313.0 386.6a3.65 3.65 0 1 0 7.30 0a3.65 3.65 0 1 0 -7.30 0M319.1 374.3a3.65 3.65 0 1 0 7.30 0a3.65 3.65 0 1 0 -7.30 0M325.1 365.6a3.65 3.65 0 1 0 7.30 0a3.65 3.65 0 1 0 -7.30 0M331.2 363.7a3.65 3.65 0 1 0 7.30 0a3.65 3.65 0 1 0 -7.30 0M337.2 364.5a3.65 3.65 0 1 0 7.30 0a3.65 3.65 0 1 0 -7.30 0M343.2 368.9a3.65 3.65 0 1 0 7.30 0a3.65 3.65 0 1 0 -7.30 0M349.3 375.2a3.65 3.65 0 1 0 7.30 0a3.65 3.65 0 1 0 -7.30 0M355.4 383.0a3.65 3.65 0 1 0 7.30 0a3.65 3.65 0 1 0 -7.30 0M361.4 389.0a3.65 3.65 0 1 0 7.30 0a3.65 3.65 0 1 0 -7.30 0M367.5 391.5a3.65 3.65 0 1 0 7.30 0a3.65 3.65 0 1 0 -7.30 0M373.5 389.2a3.65 3.65 0 1 0 7.30 0a3.65 3.65 0 1 0 -7.30 0M379.6 388.4a3.65 3.65 0 1 0 7.30 0a3.65 3.65 0 1 0 -7.30 0M385.6 389.2a3.65 3.65 0 1 0 7.30 0a3.65 3.65 0 1 0 -7.30 0M391.7 391.0a3.65 3.65 0 1 0 7.30 0a3.65 3.65 0 1 0 -7.30 0M397.7 394.5a3.65 3.65 0 1 0 7.30 0a3.65 3.65 0 1 0 -7.30 0M403.8 400.4a3.65 3.65 0 1 0 7.30 0a3.65 3.65 0 1 0 -7.30 0M409.8 407.7a3.65 3.65 0 1 0 7.30 0a3.65 3.65 0 1 0 -7.30 0M415.9 422.9a3.65 3.65 0 1 0 7.30 0a3.65 3.65 0 1 0 -7.30 0M421.9 436.8a3.65 3.65 0 1 0 7.30 0a3.65 3.65 0 1 0 -7.30 0M428.0 445.7a3.65 3.65 0 1 0 7.30 0a3.65 3.65 0 1 0 -7.30 0M434.0 456.9a3.65 3.65 0 1 0 7.30 0a3.65 3.65 0 1 0 -7.30 0M440.1 469.2a3.65 3.65 0 1 0 7.30 0a3.65 3.65 0 1 0 -7.30 0M446.1 477.3a3.65 3.65 0 1 0 7.30 0a3.65 3.65 0 1 0 -7.30 0M452.2 493.4a3.65 3.65 0 1 0 7.30 0a3.65 3.65 0 1 0 -7.30 0M458.2 500.7a3.65 3.65 0 1 0 7.30 0a3.65 3.65 0 1 0 -7.30 0M464.3 502.7a3.65 3.65 0 1 0 7.30 0a3.65 3.65 0 1 0 -7.30 0M470.3 502.7a3.65 3.65 0 1 0 7.30 0a3.65 3.65 0 1 0 -7.30 0M476.4 502.7a3.65 3.65 0 1 0 7.30 0a3.65 3.65 0 1 0 -7.30 0M482.4 501.7a3.65 3.65 0 1 0 7.30 0a3.65 3.65 0 1 0 -7.30 0M488.4 500.6a3.65 3.65 0 1 0 7.30 0a3.65 3.65 0 1 0 -7.30 0M494.5 500.2a3.65 3.65 0 1 0 7.30 0a3.65 3.65 0 1 0 -7.30 0M500.6 499.9a3.65 3.65 0 1 0 7.30 0a3.65 3.65 0 1 0 -7.30 0M506.6 499.7a3.65 3.65 0 1 0 7.30 0a3.65 3.65 0 1 0 -7.30 0M512.6 499.6a3.65 3.65 0 1 0 7.30 0a3.65 3.65 0 1 0 -7.30 0M518.7 499.5a3.65 3.65 0 1 0 7.30 0a3.65 3.65 0 1 0 -7.30 0M524.8 499.1a3.65 3.65 0 1 0 7.30 0a3.65 3.65 0 1 0 -7.30 0M530.8 498.4a3.65 3.65 0 1 0 7.30 0a3.65 3.65 0 1 0 -7.30 0M536.9 497.9a3.65 3.65 0 1 0 7.30 0a3.65 3.65 0 1 0 -7.30 0M542.9 497.4a3.65 3.65 0 1 0 7.30 0a3.65 3.65 0 1 0 -7.30 0M548.9 497.0a3.65 3.65 0 1 0 7.30 0a3.65 3.65 0 1 0 -7.30 0M555.0 496.6a3.65 3.65 0 1 0 7.30 0a3.65 3.65 0 1 0 -7.30 0M561.1 496.2a3.65 3.65 0 1 0 7.30 0a3.65 3.65 0 1 0 -7.30 0M567.1 495.9a3.65 3.65 0 1 0 7.30 0a3.65 3.65 0 1 0 -7.30 0M573.1 495.6a3.65 3.65 0 1 0 7.30 0a3.65 3.65 0 1 0 -7.30 0M579.2 495.3a3.65 3.65 0 1 0 7.30 0a3.65 3.65 0 1 0 -7.30 0M585.2 495.1a3.65 3.65 0 1 0 7.30 0a3.65 3.65 0 1 0 -7.30 0M591.3 494.8a3.65 3.65 0 1 0 7.30 0a3.65 3.65 0 1 0 -7.30 0M597.4 494.6a3.65 3.65 0 1 0 7.30 0a3.65 3.65 0 1 0 -7.30 0M603.4 494.4a3.65 3.65 0 1 0 7.30 0a3.65 3.65 0 1 0 -7.30 0M609.5 494.1a3.65 3.65 0 1 0 7.30 0a3.65 3.65 0 1 0 -7.30 0M615.5 493.9a3.65 3.65 0 1 0 7.30 0a3.65 3.65 0 1 0 -7.30 0M621.5 493.6a3.65 3.65 0 1 0 7.30 0a3.65 3.65 0 1 0 -7.30 0M627.6 493.3a3.65 3.65 0 1 0 7.30 0a3.65 3.65 0 1 0 -7.30 0M633.6 493.0a3.65 3.65 0 1 0 7.30 0a3.65 3.65 0 1 0 -7.30 0M639.7 492.6a3.65 3.65 0 1 0 7.30 0a3.65 3.65 0 1 0 -7.30 0M645.8 492.2a3.65 3.65 0 1 0 7.30 0a3.65 3.65 0 1 0 -7.30 0M651.8 491.8a3.65 3.65 0 1 0 7.30 0a3.65 3.65 0 1 0 -7.30 0M657.9 491.3a3.65 3.65 0 1 0 7.30 0a3.65 3.65 0 1 0 -7.30 0" fill="none" stroke="#EDB120" stroke-width="3.10"/>
<path d="M62.5 487.7 L68.6 486.9 L74.7 486.1 L80.7 485.3 L86.8 484.5 L92.8 483.7 L98.8 483.0 L104.9 482.3 L110.9 481.6 L117.0 480.9 L123.0 480.1 L129.1 479.4 L135.2 478.6 L141.2 477.6 L147.2 476.6 L153.3 475.3 L159.4 474.1 L165.4 472.8 L171.4 471.5 L177.5 470.1 L183.6 468.7 L189.6 467.2 L195.7 465.8 L201.7 464.6 L207.8 463.6 L213.8 462.7 L219.9 461.9 L225.9 461.0 L231.9 460.0 L238.0 459.0 L244.1 458.1 L250.1 457.4 L256.1 457.9 L262.2 458.6 L268.2 458.7 L274.3 458.7 L280.4 458.7 L286.4 458.7 L292.5 458.8 L298.5 464.8 L304.5 472.5 L310.6 478.7 L316.6 482.6 L322.7 485.3 L328.8 486.8 L334.8 488.0 L340.8 488.4 L346.9 487.3 L352.9 485.8 L359.0 484.4 L365.1 483.3 L371.1 483.6 L377.2 485.1 L383.2 486.6 L389.2 487.7 L395.3 488.3 L401.3 488.7 L407.4 489.0 L413.4 489.2 L419.5 489.4 L425.6 489.4 L431.6 489.5 L437.6 489.5 L443.7 489.6 L449.8 489.6 L455.8 489.6 L461.9 489.6 L467.9 489.7 L473.9 489.7 L480.0 489.7 L486.0 489.7 L492.1 489.7 L498.1 489.8 L504.2 489.8 L510.2 489.8 L516.3 489.8 L522.4 489.8 L528.4 489.8 L534.5 489.8 L540.5 489.9 L546.5 489.9 L552.6 489.9 L558.6 489.9 L564.7 489.9 L570.8 489.9 L576.8 489.9 L582.9 490.0 L588.9 490.0 L595.0 490.0 L601.0 490.0 L607.1 490.0 L613.1 490.0 L619.1 490.0 L625.2 490.0 L631.2 490.0 L637.3 490.0 L643.4 490.0 L649.4 490.0 L655.5 490.0 L661.5 490.0" fill="none" stroke="#7E2F8E" stroke-width="2.00" stroke-linejoin="round"/>
<path d="M58.9 487.7a3.65 3.65 0 1 0 7.30 0a3.65 3.65 0 1 0 -7.30 0M64.9 486.9a3.65 3.65 0 1 0 7.30 0a3.65 3.65 0 1 0 -7.30 0M71.0 486.1a3.65 3.65 0 1 0 7.30 0a3.65 3.65 0 1 0 -7.30 0M77.0 485.3a3.65 3.65 0 1 0 7.30 0a3.65 3.65 0 1 0 -7.30 0M83.1 484.5a3.65 3.65 0 1 0 7.30 0a3.65 3.65 0 1 0 -7.30 0M89.1 483.7a3.65 3.65 0 1 0 7.30 0a3.65 3.65 0 1 0 -7.30 0M95.2 483.0a3.65 3.65 0 1 0 7.30 0a3.65 3.65 0 1 0 -7.30 0M101.2 482.3a3.65 3.65 0 1 0 7.30 0a3.65 3.65 0 1 0 -7.30 0M107.3 481.6a3.65 3.65 0 1 0 7.30 0a3.65 3.65 0 1 0 -7.30 0M113.3 480.9a3.65 3.65 0 1 0 7.30 0a3.65 3.65 0 1 0 -7.30 0M119.4 480.1a3.65 3.65 0 1 0 7.30 0a3.65 3.65 0 1 0 -7.30 0M125.4 479.4a3.65 3.65 0 1 0 7.30 0a3.65 3.65 0 1 0 -7.30 0M131.5 478.6a3.65 3.65 0 1 0 7.30 0a3.65 3.65 0 1 0 -7.30 0M137.5 477.6a3.65 3.65 0 1 0 7.30 0a3.65 3.65 0 1 0 -7.30 0M143.6 476.6a3.65 3.65 0 1 0 7.30 0a3.65 3.65 0 1 0 -7.30 0M149.7 475.3a3.65 3.65 0 1 0 7.30 0a3.65 3.65 0 1 0 -7.30 0M155.7 474.1a3.65 3.65 0 1 0 7.30 0a3.65 3.65 0 1 0 -7.30 0M161.7 472.8a3.65 3.65 0 1 0 7.30 0a3.65 3.65 0 1 0 -7.30 0M167.8 471.5a3.65 3.65 0 1 0 7.30 0a3.65 3.65 0 1 0 -7.30 0M173.8 470.1a3.65 3.65 0 1 0 7.30 0a3.65 3.65 0 1 0 -7.30 0M179.9 468.7a3.65 3.65 0 1 0 7.30 0a3.65 3.65 0 1 0 -7.30 0M185.9 467.2a3.65 3.65 0 1 0 7.30 0a3.65 3.65 0 1 0 -7.30 0M192.0 465.8a3.65 3.65 0 1 0 7.30 0a3.65 3.65 0 1 0 -7.30 0M198.0 464.6a3.65 3.65 0 1 0 7.30 0a3.65 3.65 0 1 0 -7.30 0M204.1 463.6a3.65 3.65 0 1 0 7.30 0a3.65 3.65 0 1 0 -7.30 0M210.2 462.7a3.65 3.65 0 1 0 7.30 0a3.65 3.65 0 1 0 -7.30 0M216.2 461.9a3.65 3.65 0 1 0 7.30 0a3.65 3.65 0 1 0 -7.30 0M222.2 461.0a3.65 3.65 0 1 0 7.30 0a3.65 3.65 0 1 0 -7.30 0M228.3 460.0a3.65 3.65 0 1 0 7.30 0a3.65 3.65 0 1 0 -7.30 0M234.3 459.0a3.65 3.65 0 1 0 7.30 0a3.65 3.65 0 1 0 -7.30 0M240.4 458.1a3.65 3.65 0 1 0 7.30 0a3.65 3.65 0 1 0 -7.30 0M246.4 457.4a3.65 3.65 0 1 0 7.30 0a3.65 3.65 0 1 0 -7.30 0M252.5 457.9a3.65 3.65 0 1 0 7.30 0a3.65 3.65 0 1 0 -7.30 0M258.6 458.6a3.65 3.65 0 1 0 7.30 0a3.65 3.65 0 1 0 -7.30 0M264.6 458.7a3.65 3.65 0 1 0 7.30 0a3.65 3.65 0 1 0 -7.30 0M270.6 458.7a3.65 3.65 0 1 0 7.30 0a3.65 3.65 0 1 0 -7.30 0M276.7 458.7a3.65 3.65 0 1 0 7.30 0a3.65 3.65 0 1 0 -7.30 0M282.8 458.7a3.65 3.65 0 1 0 7.30 0a3.65 3.65 0 1 0 -7.30 0M288.8 458.8a3.65 3.65 0 1 0 7.30 0a3.65 3.65 0 1 0 -7.30 0M294.9 464.8a3.65 3.65 0 1 0 7.30 0a3.65 3.65 0 1 0 -7.30 0M300.9 472.5a3.65 3.65 0 1 0 7.30 0a3.65 3.65 0 1 0 -7.30 0M307.0 478.7a3.65 3.65 0 1 0 7.30 0a3.65 3.65 0 1 0 -7.30 0M313.0 482.6a3.65 3.65 0 1 0 7.30 0a3.65 3.65 0 1 0 -7.30 0M319.1 485.3a3.65 3.65 0 1 0 7.30 0a3.65 3.65 0 1 0 -7.30 0M325.1 486.8a3.65 3.65 0 1 0 7.30 0a3.65 3.65 0 1 0 -7.30 0M331.2 488.0a3.65 3.65 0 1 0 7.30 0a3.65 3.65 0 1 0 -7.30 0M337.2 488.4a3.65 3.65 0 1 0 7.30 0a3.65 3.65 0 1 0 -7.30 0M343.2 487.3a3.65 3.65 0 1 0 7.30 0a3.65 3.65 0 1 0 -7.30 0M349.3 485.8a3.65 3.65 0 1 0 7.30 0a3.65 3.65 0 1 0 -7.30 0M355.4 484.4a3.65 3.65 0 1 0 7.30 0a3.65 3.65 0 1 0 -7.30 0M361.4 483.3a3.65 3.65 0 1 0 7.30 0a3.65 3.65 0 1 0 -7.30 0M367.5 483.6a3.65 3.65 0 1 0 7.30 0a3.65 3.65 0 1 0 -7.30 0M373.5 485.1a3.65 3.65 0 1 0 7.30 0a3.65 3.65 0 1 0 -7.30 0M379.6 486.6a3.65 3.65 0 1 0 7.30 0a3.65 3.65 0 1 0 -7.30 0M385.6 487.7a3.65 3.65 0 1 0 7.30 0a3.65 3.65 0 1 0 -7.30 0M391.7 488.3a3.65 3.65 0 1 0 7.30 0a3.65 3.65 0 1 0 -7.30 0M397.7 488.7a3.65 3.65 0 1 0 7.30 0a3.65 3.65 0 1 0 -7.30 0M403.8 489.0a3.65 3.65 0 1 0 7.30 0a3.65 3.65 0 1 0 -7.30 0M409.8 489.2a3.65 3.65 0 1 0 7.30 0a3.65 3.65 0 1 0 -7.30 0M415.9 489.4a3.65 3.65 0 1 0 7.30 0a3.65 3.65 0 1 0 -7.30 0M421.9 489.4a3.65 3.65 0 1 0 7.30 0a3.65 3.65 0 1 0 -7.30 0M428.0 489.5a3.65 3.65 0 1 0 7.30 0a3.65 3.65 0 1 0 -7.30 0M434.0 489.5a3.65 3.65 0 1 0 7.30 0a3.65 3.65 0 1 0 -7.30 0M440.1 489.6a3.65 3.65 0 1 0 7.30 0a3.65 3.65 0 1 0 -7.30 0M446.1 489.6a3.65 3.65 0 1 0 7.30 0a3.65 3.65 0 1 0 -7.30 0M452.2 489.6a3.65 3.65 0 1 0 7.30 0a3.65 3.65 0 1 0 -7.30 0M458.2 489.6a3.65 3.65 0 1 0 7.30 0a3.65 3.65 0 1 0 -7.30 0M464.3 489.7a3.65 3.65 0 1 0 7.30 0a3.65 3.65 0 1 0 -7.30 0M470.3 489.7a3.65 3.65 0 1 0 7.30 0a3.65 3.65 0 1 0 -7.30 0M476.4 489.7a3.65 3.65 0 1 0 7.30 0a3.65 3.65 0 1 0 -7.30 0M482.4 489.7a3.65 3.65 0 1 0 7.30 0a3.65 3.65 0 1 0 -7.30 0M488.4 489.7a3.65 3.65 0 1 0 7.30 0a3.65 3.65 0 1 0 -7.30 0M494.5 489.8a3.65 3.65 0 1 0 7.30 0a3.65 3.65 0 1 0 -7.30 0M500.6 489.8a3.65 3.65 0 1 0 7.30 0a3.65 3.65 0 1 0 -7.30 0M506.6 489.8a3.65 3.65 0 1 0 7.30 0a3.65 3.65 0 1 0 -7.30 0M512.6 489.8a3.65 3.65 0 1 0 7.30 0a3.65 3.65 0 1 0 -7.30 0M518.7 489.8a3.65 3.65 0 1 0 7.30 0a3.65 3.65 0 1 0 -7.30 0M524.8 489.8a3.65 3.65 0 1 0 7.30 0a3.65 3.65 0 1 0 -7.30 0M530.8 489.8a3.65 3.65 0 1 0 7.30 0a3.65 3.65 0 1 0 -7.30 0M536.9 489.9a3.65 3.65 0 1 0 7.30 0a3.65 3.65 0 1 0 -7.30 0M542.9 489.9a3.65 3.65 0 1 0 7.30 0a3.65 3.65 0 1 0 -7.30 0M548.9 489.9a3.65 3.65 0 1 0 7.30 0a3.65 3.65 0 1 0 -7.30 0M555.0 489.9a3.65 3.65 0 1 0 7.30 0a3.65 3.65 0 1 0 -7.30 0M561.1 489.9a3.65 3.65 0 1 0 7.30 0a3.65 3.65 0 1 0 -7.30 0M567.1 489.9a3.65 3.65 0 1 0 7.30 0a3.65 3.65 0 1 0 -7.30 0M573.1 489.9a3.65 3.65 0 1 0 7.30 0a3.65 3.65 0 1 0 -7.30 0M579.2 490.0a3.65 3.65 0 1 0 7.30 0a3.65 3.65 0 1 0 -7.30 0M585.2 490.0a3.65 3.65 0 1 0 7.30 0a3.65 3.65 0 1 0 -7.30 0M591.3 490.0a3.65 3.65 0 1 0 7.30 0a3.65 3.65 0 1 0 -7.30 0M597.4 490.0a3.65 3.65 0 1 0 7.30 0a3.65 3.65 0 1 0 -7.30 0M603.4 490.0a3.65 3.65 0 1 0 7.30 0a3.65 3.65 0 1 0 -7.30 0M609.5 490.0a3.65 3.65 0 1 0 7.30 0a3.65 3.65 0 1 0 -7.30 0M615.5 490.0a3.65 3.65 0 1 0 7.30 0a3.65 3.65 0 1 0 -7.30 0M621.5 490.0a3.65 3.65 0 1 0 7.30 0a3.65 3.65 0 1 0 -7.30 0M627.6 490.0a3.65 3.65 0 1 0 7.30 0a3.65 3.65 0 1 0 -7.30 0M633.6 490.0a3.65 3.65 0 1 0 7.30 0a3.65 3.65 0 1 0 -7.30 0M639.7 490.0a3.65 3.65 0 1 0 7.30 0a3.65 3.65 0 1 0 -7.30 0M645.8 490.0a3.65 3.65 0 1 0 7.30 0a3.65 3.65 0 1 0 -7.30 0M651.8 490.0a3.65 3.65 0 1 0 7.30 0a3.65 3.65 0 1 0 -7.30 0M657.9 490.0a3.65 3.65 0 1 0 7.30 0a3.65 3.65 0 1 0 -7.30 0" fill="none" stroke="#7E2F8E" stroke-width="3.10"/>
</g>
<rect x="510.4" y="336.6" width="139" height="107.8" fill="#fff" stroke="#262626" stroke-width="1.5"/>
<path d="M516.9 351.5H561.5" stroke="#0072BD" stroke-width="2.6"/>
<circle cx="539.2" cy="351.5" r="3.9" fill="none" stroke="#0072BD" stroke-width="2.4"/>
<text x="567.2" y="358.3" class="l">Total</text>
<path d="M516.9 377.3H561.5" stroke="#D95319" stroke-width="2.6"/>
<circle cx="539.2" cy="377.3" r="3.9" fill="none" stroke="#D95319" stroke-width="2.4"/>
<text x="567.2" y="384.1" class="l">Leonard</text>
<path d="M516.9 403.1H561.5" stroke="#EDB120" stroke-width="2.6"/>
<circle cx="539.2" cy="403.1" r="3.9" fill="none" stroke="#EDB120" stroke-width="2.4"/>
<text x="567.2" y="409.9" class="l">Cross</text>
<path d="M516.9 428.9H561.5" stroke="#7E2F8E" stroke-width="2.6"/>
<circle cx="539.2" cy="428.9" r="3.9" fill="none" stroke="#7E2F8E" stroke-width="2.4"/>
<text x="567.2" y="435.7" class="l">Subfilter</text>
<rect x="461.9" y="645.0" width="199.6" height="226.0" fill="#E8E8FE"/>
<path d="M55.85 643.10H662.15M55.85 871.00H662.15" stroke="#262626" stroke-width="1.6" fill="none"/>
<path d="M56.50 642.30V871.80M661.50 642.30V871.80" stroke="#262626" stroke-width="1.3" fill="none"/>
<path d="M56.5 871.0V866.5M56.5 643.1V647.6M177.5 871.0V866.5M177.5 643.1V647.6M298.5 871.0V866.5M298.5 643.1V647.6M419.5 871.0V866.5M419.5 643.1V647.6M540.5 871.0V866.5M540.5 643.1V647.6M661.5 871.0V866.5M661.5 643.1V647.6M56.5 871.7H61.0M661.5 871.7H657.0M56.5 806.6H61.0M661.5 806.6H657.0M56.5 741.5H61.0M661.5 741.5H657.0M56.5 676.4H61.0M661.5 676.4H657.0" stroke="#262626" stroke-width="1.3" fill="none"/>
<text x="56.5" y="902.4" text-anchor="middle" class="t">0</text>
<text x="177.5" y="902.4" text-anchor="middle" class="t">20</text>
<text x="298.5" y="902.4" text-anchor="middle" class="t">40</text>
<text x="419.5" y="902.4" text-anchor="middle" class="t">60</text>
<text x="540.5" y="902.4" text-anchor="middle" class="t">80</text>
<text x="661.5" y="902.4" text-anchor="middle" class="t">100</text>
<text x="48.0" y="880.3" text-anchor="end" class="t">-200</text>
<text x="48.0" y="815.2" text-anchor="end" class="t">0</text>
<text x="48.0" y="750.1" text-anchor="end" class="t">200</text>
<text x="48.0" y="685.0" text-anchor="end" class="t">400</text>
<g filter="url(#bl)">
<path d="M62.5 806.9 L68.6 806.9 L74.7 806.9 L80.7 806.9 L86.8 806.9 L92.8 806.9 L98.8 806.9 L104.9 806.9 L110.9 806.9 L117.0 805.3 L123.0 805.1 L129.1 805.1 L135.2 805.0 L141.2 802.4 L147.2 802.3 L153.3 802.2 L159.4 802.2 L165.4 802.2 L171.4 802.1 L177.5 802.0 L183.6 800.7 L189.6 800.7 L195.7 800.7 L201.7 799.1 L207.8 799.1 L213.8 799.1 L219.9 797.1 L225.9 796.7 L231.9 796.4 L238.0 796.2 L244.1 795.8 L250.1 795.5 L256.1 795.2 L262.2 794.8 L268.2 794.4 L274.3 794.0 L280.4 793.6 L286.4 793.2 L292.5 792.9 L298.5 792.6 L304.5 792.3 L310.6 792.0 L316.6 791.6 L322.7 791.2 L328.8 790.8 L334.8 790.4 L340.8 790.0 L346.9 789.7 L352.9 789.4 L359.0 789.1 L365.1 788.9 L371.1 788.6 L377.2 788.4 L383.2 788.1 L389.2 787.7 L395.3 787.3 L401.3 786.7 L407.4 786.1 L413.4 785.1 L419.5 783.8 L425.6 782.2 L431.6 780.5 L437.6 779.4 L443.7 777.9 L449.8 775.7 L455.8 772.6 L461.9 769.1 L467.9 765.8 L473.9 762.4 L480.0 758.8 L486.0 755.2 L492.1 751.3 L498.1 747.2 L504.2 742.8 L510.2 737.9 L516.3 731.4 L522.4 725.5 L528.4 721.4 L534.5 719.3 L540.5 719.7 L546.5 720.4 L552.6 721.0 L558.6 721.9 L564.7 725.9 L570.8 729.7 L576.8 732.4 L582.9 735.4 L588.9 740.2 L595.0 747.8 L601.0 755.3 L607.1 761.0 L613.1 765.9 L619.1 768.0 L625.2 768.8 L631.2 770.6 L637.3 776.1 L643.4 782.7 L649.4 790.6 L655.5 795.1 L661.5 797.5" fill="none" stroke="#0072BD" stroke-width="2.00" stroke-linejoin="round"/>
<path d="M58.9 806.9a3.65 3.65 0 1 0 7.30 0a3.65 3.65 0 1 0 -7.30 0M64.9 806.9a3.65 3.65 0 1 0 7.30 0a3.65 3.65 0 1 0 -7.30 0M71.0 806.9a3.65 3.65 0 1 0 7.30 0a3.65 3.65 0 1 0 -7.30 0M77.0 806.9a3.65 3.65 0 1 0 7.30 0a3.65 3.65 0 1 0 -7.30 0M83.1 806.9a3.65 3.65 0 1 0 7.30 0a3.65 3.65 0 1 0 -7.30 0M89.1 806.9a3.65 3.65 0 1 0 7.30 0a3.65 3.65 0 1 0 -7.30 0M95.2 806.9a3.65 3.65 0 1 0 7.30 0a3.65 3.65 0 1 0 -7.30 0M101.2 806.9a3.65 3.65 0 1 0 7.30 0a3.65 3.65 0 1 0 -7.30 0M107.3 806.9a3.65 3.65 0 1 0 7.30 0a3.65 3.65 0 1 0 -7.30 0M113.3 805.3a3.65 3.65 0 1 0 7.30 0a3.65 3.65 0 1 0 -7.30 0M119.4 805.1a3.65 3.65 0 1 0 7.30 0a3.65 3.65 0 1 0 -7.30 0M125.4 805.1a3.65 3.65 0 1 0 7.30 0a3.65 3.65 0 1 0 -7.30 0M131.5 805.0a3.65 3.65 0 1 0 7.30 0a3.65 3.65 0 1 0 -7.30 0M137.5 802.4a3.65 3.65 0 1 0 7.30 0a3.65 3.65 0 1 0 -7.30 0M143.6 802.3a3.65 3.65 0 1 0 7.30 0a3.65 3.65 0 1 0 -7.30 0M149.7 802.2a3.65 3.65 0 1 0 7.30 0a3.65 3.65 0 1 0 -7.30 0M155.7 802.2a3.65 3.65 0 1 0 7.30 0a3.65 3.65 0 1 0 -7.30 0M161.7 802.2a3.65 3.65 0 1 0 7.30 0a3.65 3.65 0 1 0 -7.30 0M167.8 802.1a3.65 3.65 0 1 0 7.30 0a3.65 3.65 0 1 0 -7.30 0M173.8 802.0a3.65 3.65 0 1 0 7.30 0a3.65 3.65 0 1 0 -7.30 0M179.9 800.7a3.65 3.65 0 1 0 7.30 0a3.65 3.65 0 1 0 -7.30 0M185.9 800.7a3.65 3.65 0 1 0 7.30 0a3.65 3.65 0 1 0 -7.30 0M192.0 800.7a3.65 3.65 0 1 0 7.30 0a3.65 3.65 0 1 0 -7.30 0M198.0 799.1a3.65 3.65 0 1 0 7.30 0a3.65 3.65 0 1 0 -7.30 0M204.1 799.1a3.65 3.65 0 1 0 7.30 0a3.65 3.65 0 1 0 -7.30 0M210.2 799.1a3.65 3.65 0 1 0 7.30 0a3.65 3.65 0 1 0 -7.30 0M216.2 797.1a3.65 3.65 0 1 0 7.30 0a3.65 3.65 0 1 0 -7.30 0M222.2 796.7a3.65 3.65 0 1 0 7.30 0a3.65 3.65 0 1 0 -7.30 0M228.3 796.4a3.65 3.65 0 1 0 7.30 0a3.65 3.65 0 1 0 -7.30 0M234.3 796.2a3.65 3.65 0 1 0 7.30 0a3.65 3.65 0 1 0 -7.30 0M240.4 795.8a3.65 3.65 0 1 0 7.30 0a3.65 3.65 0 1 0 -7.30 0M246.4 795.5a3.65 3.65 0 1 0 7.30 0a3.65 3.65 0 1 0 -7.30 0M252.5 795.2a3.65 3.65 0 1 0 7.30 0a3.65 3.65 0 1 0 -7.30 0M258.6 794.8a3.65 3.65 0 1 0 7.30 0a3.65 3.65 0 1 0 -7.30 0M264.6 794.4a3.65 3.65 0 1 0 7.30 0a3.65 3.65 0 1 0 -7.30 0M270.6 794.0a3.65 3.65 0 1 0 7.30 0a3.65 3.65 0 1 0 -7.30 0M276.7 793.6a3.65 3.65 0 1 0 7.30 0a3.65 3.65 0 1 0 -7.30 0M282.8 793.2a3.65 3.65 0 1 0 7.30 0a3.65 3.65 0 1 0 -7.30 0M288.8 792.9a3.65 3.65 0 1 0 7.30 0a3.65 3.65 0 1 0 -7.30 0M294.9 792.6a3.65 3.65 0 1 0 7.30 0a3.65 3.65 0 1 0 -7.30 0M300.9 792.3a3.65 3.65 0 1 0 7.30 0a3.65 3.65 0 1 0 -7.30 0M307.0 792.0a3.65 3.65 0 1 0 7.30 0a3.65 3.65 0 1 0 -7.30 0M313.0 791.6a3.65 3.65 0 1 0 7.30 0a3.65 3.65 0 1 0 -7.30 0M319.1 791.2a3.65 3.65 0 1 0 7.30 0a3.65 3.65 0 1 0 -7.30 0M325.1 790.8a3.65 3.65 0 1 0 7.30 0a3.65 3.65 0 1 0 -7.30 0M331.2 790.4a3.65 3.65 0 1 0 7.30 0a3.65 3.65 0 1 0 -7.30 0M337.2 790.0a3.65 3.65 0 1 0 7.30 0a3.65 3.65 0 1 0 -7.30 0M343.2 789.7a3.65 3.65 0 1 0 7.30 0a3.65 3.65 0 1 0 -7.30 0M349.3 789.4a3.65 3.65 0 1 0 7.30 0a3.65 3.65 0 1 0 -7.30 0M355.4 789.1a3.65 3.65 0 1 0 7.30 0a3.65 3.65 0 1 0 -7.30 0M361.4 788.9a3.65 3.65 0 1 0 7.30 0a3.65 3.65 0 1 0 -7.30 0M367.5 788.6a3.65 3.65 0 1 0 7.30 0a3.65 3.65 0 1 0 -7.30 0M373.5 788.4a3.65 3.65 0 1 0 7.30 0a3.65 3.65 0 1 0 -7.30 0M379.6 788.1a3.65 3.65 0 1 0 7.30 0a3.65 3.65 0 1 0 -7.30 0M385.6 787.7a3.65 3.65 0 1 0 7.30 0a3.65 3.65 0 1 0 -7.30 0M391.7 787.3a3.65 3.65 0 1 0 7.30 0a3.65 3.65 0 1 0 -7.30 0M397.7 786.7a3.65 3.65 0 1 0 7.30 0a3.65 3.65 0 1 0 -7.30 0M403.8 786.1a3.65 3.65 0 1 0 7.30 0a3.65 3.65 0 1 0 -7.30 0M409.8 785.1a3.65 3.65 0 1 0 7.30 0a3.65 3.65 0 1 0 -7.30 0M415.9 783.8a3.65 3.65 0 1 0 7.30 0a3.65 3.65 0 1 0 -7.30 0M421.9 782.2a3.65 3.65 0 1 0 7.30 0a3.65 3.65 0 1 0 -7.30 0M428.0 780.5a3.65 3.65 0 1 0 7.30 0a3.65 3.65 0 1 0 -7.30 0M434.0 779.4a3.65 3.65 0 1 0 7.30 0a3.65 3.65 0 1 0 -7.30 0M440.1 777.9a3.65 3.65 0 1 0 7.30 0a3.65 3.65 0 1 0 -7.30 0M446.1 775.7a3.65 3.65 0 1 0 7.30 0a3.65 3.65 0 1 0 -7.30 0M452.2 772.6a3.65 3.65 0 1 0 7.30 0a3.65 3.65 0 1 0 -7.30 0M458.2 769.1a3.65 3.65 0 1 0 7.30 0a3.65 3.65 0 1 0 -7.30 0M464.3 765.8a3.65 3.65 0 1 0 7.30 0a3.65 3.65 0 1 0 -7.30 0M470.3 762.4a3.65 3.65 0 1 0 7.30 0a3.65 3.65 0 1 0 -7.30 0M476.4 758.8a3.65 3.65 0 1 0 7.30 0a3.65 3.65 0 1 0 -7.30 0M482.4 755.2a3.65 3.65 0 1 0 7.30 0a3.65 3.65 0 1 0 -7.30 0M488.4 751.3a3.65 3.65 0 1 0 7.30 0a3.65 3.65 0 1 0 -7.30 0M494.5 747.2a3.65 3.65 0 1 0 7.30 0a3.65 3.65 0 1 0 -7.30 0M500.6 742.8a3.65 3.65 0 1 0 7.30 0a3.65 3.65 0 1 0 -7.30 0M506.6 737.9a3.65 3.65 0 1 0 7.30 0a3.65 3.65 0 1 0 -7.30 0M512.6 731.4a3.65 3.65 0 1 0 7.30 0a3.65 3.65 0 1 0 -7.30 0M518.7 725.5a3.65 3.65 0 1 0 7.30 0a3.65 3.65 0 1 0 -7.30 0M524.8 721.4a3.65 3.65 0 1 0 7.30 0a3.65 3.65 0 1 0 -7.30 0M530.8 719.3a3.65 3.65 0 1 0 7.30 0a3.65 3.65 0 1 0 -7.30 0M536.9 719.7a3.65 3.65 0 1 0 7.30 0a3.65 3.65 0 1 0 -7.30 0M542.9 720.4a3.65 3.65 0 1 0 7.30 0a3.65 3.65 0 1 0 -7.30 0M548.9 721.0a3.65 3.65 0 1 0 7.30 0a3.65 3.65 0 1 0 -7.30 0M555.0 721.9a3.65 3.65 0 1 0 7.30 0a3.65 3.65 0 1 0 -7.30 0M561.1 725.9a3.65 3.65 0 1 0 7.30 0a3.65 3.65 0 1 0 -7.30 0M567.1 729.7a3.65 3.65 0 1 0 7.30 0a3.65 3.65 0 1 0 -7.30 0M573.1 732.4a3.65 3.65 0 1 0 7.30 0a3.65 3.65 0 1 0 -7.30 0M579.2 735.4a3.65 3.65 0 1 0 7.30 0a3.65 3.65 0 1 0 -7.30 0M585.2 740.2a3.65 3.65 0 1 0 7.30 0a3.65 3.65 0 1 0 -7.30 0M591.3 747.8a3.65 3.65 0 1 0 7.30 0a3.65 3.65 0 1 0 -7.30 0M597.4 755.3a3.65 3.65 0 1 0 7.30 0a3.65 3.65 0 1 0 -7.30 0M603.4 761.0a3.65 3.65 0 1 0 7.30 0a3.65 3.65 0 1 0 -7.30 0M609.5 765.9a3.65 3.65 0 1 0 7.30 0a3.65 3.65 0 1 0 -7.30 0M615.5 768.0a3.65 3.65 0 1 0 7.30 0a3.65 3.65 0 1 0 -7.30 0M621.5 768.8a3.65 3.65 0 1 0 7.30 0a3.65 3.65 0 1 0 -7.30 0M627.6 770.6a3.65 3.65 0 1 0 7.30 0a3.65 3.65 0 1 0 -7.30 0M633.6 776.1a3.65 3.65 0 1 0 7.30 0a3.65 3.65 0 1 0 -7.30 0M639.7 782.7a3.65 3.65 0 1 0 7.30 0a3.65 3.65 0 1 0 -7.30 0M645.8 790.6a3.65 3.65 0 1 0 7.30 0a3.65 3.65 0 1 0 -7.30 0M651.8 795.1a3.65 3.65 0 1 0 7.30 0a3.65 3.65 0 1 0 -7.30 0M657.9 797.5a3.65 3.65 0 1 0 7.30 0a3.65 3.65 0 1 0 -7.30 0" fill="none" stroke="#0072BD" stroke-width="3.10"/>
<path d="M62.5 807.2 L68.6 807.2 L74.7 807.3 L80.7 807.3 L86.8 807.3 L92.8 807.3 L98.8 807.3 L104.9 807.3 L110.9 807.3 L117.0 807.4 L123.0 807.4 L129.1 807.4 L135.2 807.4 L141.2 807.4 L147.2 807.5 L153.3 807.5 L159.4 807.5 L165.4 807.5 L171.4 807.5 L177.5 807.6 L183.6 807.6 L189.6 807.6 L195.7 807.6 L201.7 807.7 L207.8 807.7 L213.8 807.7 L219.9 807.8 L225.9 807.8 L231.9 807.9 L238.0 807.9 L244.1 807.9 L250.1 808.0 L256.1 808.0 L262.2 808.0 L268.2 808.1 L274.3 808.1 L280.4 808.2 L286.4 808.2 L292.5 808.2 L298.5 808.2 L304.5 808.2 L310.6 808.2 L316.6 808.1 L322.7 808.1 L328.8 808.0 L334.8 807.9 L340.8 807.7 L346.9 807.3 L352.9 806.9 L359.0 806.6 L365.1 806.4 L371.1 806.2 L377.2 806.1 L383.2 806.0 L389.2 805.9 L395.3 805.9 L401.3 806.0 L407.4 806.0 L413.4 806.0 L419.5 806.0 L425.6 806.1 L431.6 806.2 L437.6 806.3 L443.7 806.9 L449.8 807.6 L455.8 807.7 L461.9 807.8 L467.9 807.8 L473.9 807.8 L480.0 807.9 L486.0 807.9 L492.1 808.0 L498.1 808.0 L504.2 808.0 L510.2 808.0 L516.3 808.0 L522.4 808.1 L528.4 808.1 L534.5 808.1 L540.5 808.2 L546.5 809.1 L552.6 810.2 L558.6 810.8 L564.7 811.3 L570.8 811.5 L576.8 811.5 L582.9 811.5 L588.9 811.5 L595.0 811.5 L601.0 811.5 L607.1 811.5 L613.1 811.5 L619.1 811.5 L625.2 811.5 L631.2 811.5 L637.3 811.5 L643.4 811.5 L649.4 811.5 L655.5 811.5 L661.5 811.5" fill="none" stroke="#D95319" stroke-width="2.00" stroke-linejoin="round"/>
<path d="M58.9 807.2a3.65 3.65 0 1 0 7.30 0a3.65 3.65 0 1 0 -7.30 0M64.9 807.2a3.65 3.65 0 1 0 7.30 0a3.65 3.65 0 1 0 -7.30 0M71.0 807.3a3.65 3.65 0 1 0 7.30 0a3.65 3.65 0 1 0 -7.30 0M77.0 807.3a3.65 3.65 0 1 0 7.30 0a3.65 3.65 0 1 0 -7.30 0M83.1 807.3a3.65 3.65 0 1 0 7.30 0a3.65 3.65 0 1 0 -7.30 0M89.1 807.3a3.65 3.65 0 1 0 7.30 0a3.65 3.65 0 1 0 -7.30 0M95.2 807.3a3.65 3.65 0 1 0 7.30 0a3.65 3.65 0 1 0 -7.30 0M101.2 807.3a3.65 3.65 0 1 0 7.30 0a3.65 3.65 0 1 0 -7.30 0M107.3 807.3a3.65 3.65 0 1 0 7.30 0a3.65 3.65 0 1 0 -7.30 0M113.3 807.4a3.65 3.65 0 1 0 7.30 0a3.65 3.65 0 1 0 -7.30 0M119.4 807.4a3.65 3.65 0 1 0 7.30 0a3.65 3.65 0 1 0 -7.30 0M125.4 807.4a3.65 3.65 0 1 0 7.30 0a3.65 3.65 0 1 0 -7.30 0M131.5 807.4a3.65 3.65 0 1 0 7.30 0a3.65 3.65 0 1 0 -7.30 0M137.5 807.4a3.65 3.65 0 1 0 7.30 0a3.65 3.65 0 1 0 -7.30 0M143.6 807.5a3.65 3.65 0 1 0 7.30 0a3.65 3.65 0 1 0 -7.30 0M149.7 807.5a3.65 3.65 0 1 0 7.30 0a3.65 3.65 0 1 0 -7.30 0M155.7 807.5a3.65 3.65 0 1 0 7.30 0a3.65 3.65 0 1 0 -7.30 0M161.7 807.5a3.65 3.65 0 1 0 7.30 0a3.65 3.65 0 1 0 -7.30 0M167.8 807.5a3.65 3.65 0 1 0 7.30 0a3.65 3.65 0 1 0 -7.30 0M173.8 807.6a3.65 3.65 0 1 0 7.30 0a3.65 3.65 0 1 0 -7.30 0M179.9 807.6a3.65 3.65 0 1 0 7.30 0a3.65 3.65 0 1 0 -7.30 0M185.9 807.6a3.65 3.65 0 1 0 7.30 0a3.65 3.65 0 1 0 -7.30 0M192.0 807.6a3.65 3.65 0 1 0 7.30 0a3.65 3.65 0 1 0 -7.30 0M198.0 807.7a3.65 3.65 0 1 0 7.30 0a3.65 3.65 0 1 0 -7.30 0M204.1 807.7a3.65 3.65 0 1 0 7.30 0a3.65 3.65 0 1 0 -7.30 0M210.2 807.7a3.65 3.65 0 1 0 7.30 0a3.65 3.65 0 1 0 -7.30 0M216.2 807.8a3.65 3.65 0 1 0 7.30 0a3.65 3.65 0 1 0 -7.30 0M222.2 807.8a3.65 3.65 0 1 0 7.30 0a3.65 3.65 0 1 0 -7.30 0M228.3 807.9a3.65 3.65 0 1 0 7.30 0a3.65 3.65 0 1 0 -7.30 0M234.3 807.9a3.65 3.65 0 1 0 7.30 0a3.65 3.65 0 1 0 -7.30 0M240.4 807.9a3.65 3.65 0 1 0 7.30 0a3.65 3.65 0 1 0 -7.30 0M246.4 808.0a3.65 3.65 0 1 0 7.30 0a3.65 3.65 0 1 0 -7.30 0M252.5 808.0a3.65 3.65 0 1 0 7.30 0a3.65 3.65 0 1 0 -7.30 0M258.6 808.0a3.65 3.65 0 1 0 7.30 0a3.65 3.65 0 1 0 -7.30 0M264.6 808.1a3.65 3.65 0 1 0 7.30 0a3.65 3.65 0 1 0 -7.30 0M270.6 808.1a3.65 3.65 0 1 0 7.30 0a3.65 3.65 0 1 0 -7.30 0M276.7 808.2a3.65 3.65 0 1 0 7.30 0a3.65 3.65 0 1 0 -7.30 0M282.8 808.2a3.65 3.65 0 1 0 7.30 0a3.65 3.65 0 1 0 -7.30 0M288.8 808.2a3.65 3.65 0 1 0 7.30 0a3.65 3.65 0 1 0 -7.30 0M294.9 808.2a3.65 3.65 0 1 0 7.30 0a3.65 3.65 0 1 0 -7.30 0M300.9 808.2a3.65 3.65 0 1 0 7.30 0a3.65 3.65 0 1 0 -7.30 0M307.0 808.2a3.65 3.65 0 1 0 7.30 0a3.65 3.65 0 1 0 -7.30 0M313.0 808.1a3.65 3.65 0 1 0 7.30 0a3.65 3.65 0 1 0 -7.30 0M319.1 808.1a3.65 3.65 0 1 0 7.30 0a3.65 3.65 0 1 0 -7.30 0M325.1 808.0a3.65 3.65 0 1 0 7.30 0a3.65 3.65 0 1 0 -7.30 0M331.2 807.9a3.65 3.65 0 1 0 7.30 0a3.65 3.65 0 1 0 -7.30 0M337.2 807.7a3.65 3.65 0 1 0 7.30 0a3.65 3.65 0 1 0 -7.30 0M343.2 807.3a3.65 3.65 0 1 0 7.30 0a3.65 3.65 0 1 0 -7.30 0M349.3 806.9a3.65 3.65 0 1 0 7.30 0a3.65 3.65 0 1 0 -7.30 0M355.4 806.6a3.65 3.65 0 1 0 7.30 0a3.65 3.65 0 1 0 -7.30 0M361.4 806.4a3.65 3.65 0 1 0 7.30 0a3.65 3.65 0 1 0 -7.30 0M367.5 806.2a3.65 3.65 0 1 0 7.30 0a3.65 3.65 0 1 0 -7.30 0M373.5 806.1a3.65 3.65 0 1 0 7.30 0a3.65 3.65 0 1 0 -7.30 0M379.6 806.0a3.65 3.65 0 1 0 7.30 0a3.65 3.65 0 1 0 -7.30 0M385.6 805.9a3.65 3.65 0 1 0 7.30 0a3.65 3.65 0 1 0 -7.30 0M391.7 805.9a3.65 3.65 0 1 0 7.30 0a3.65 3.65 0 1 0 -7.30 0M397.7 806.0a3.65 3.65 0 1 0 7.30 0a3.65 3.65 0 1 0 -7.30 0M403.8 806.0a3.65 3.65 0 1 0 7.30 0a3.65 3.65 0 1 0 -7.30 0M409.8 806.0a3.65 3.65 0 1 0 7.30 0a3.65 3.65 0 1 0 -7.30 0M415.9 806.0a3.65 3.65 0 1 0 7.30 0a3.65 3.65 0 1 0 -7.30 0M421.9 806.1a3.65 3.65 0 1 0 7.30 0a3.65 3.65 0 1 0 -7.30 0M428.0 806.2a3.65 3.65 0 1 0 7.30 0a3.65 3.65 0 1 0 -7.30 0M434.0 806.3a3.65 3.65 0 1 0 7.30 0a3.65 3.65 0 1 0 -7.30 0M440.1 806.9a3.65 3.65 0 1 0 7.30 0a3.65 3.65 0 1 0 -7.30 0M446.1 807.6a3.65 3.65 0 1 0 7.30 0a3.65 3.65 0 1 0 -7.30 0M452.2 807.7a3.65 3.65 0 1 0 7.30 0a3.65 3.65 0 1 0 -7.30 0M458.2 807.8a3.65 3.65 0 1 0 7.30 0a3.65 3.65 0 1 0 -7.30 0M464.3 807.8a3.65 3.65 0 1 0 7.30 0a3.65 3.65 0 1 0 -7.30 0M470.3 807.8a3.65 3.65 0 1 0 7.30 0a3.65 3.65 0 1 0 -7.30 0M476.4 807.9a3.65 3.65 0 1 0 7.30 0a3.65 3.65 0 1 0 -7.30 0M482.4 807.9a3.65 3.65 0 1 0 7.30 0a3.65 3.65 0 1 0 -7.30 0M488.4 808.0a3.65 3.65 0 1 0 7.30 0a3.65 3.65 0 1 0 -7.30 0M494.5 808.0a3.65 3.65 0 1 0 7.30 0a3.65 3.65 0 1 0 -7.30 0M500.6 808.0a3.65 3.65 0 1 0 7.30 0a3.65 3.65 0 1 0 -7.30 0M506.6 808.0a3.65 3.65 0 1 0 7.30 0a3.65 3.65 0 1 0 -7.30 0M512.6 808.0a3.65 3.65 0 1 0 7.30 0a3.65 3.65 0 1 0 -7.30 0M518.7 808.1a3.65 3.65 0 1 0 7.30 0a3.65 3.65 0 1 0 -7.30 0M524.8 808.1a3.65 3.65 0 1 0 7.30 0a3.65 3.65 0 1 0 -7.30 0M530.8 808.1a3.65 3.65 0 1 0 7.30 0a3.65 3.65 0 1 0 -7.30 0M536.9 808.2a3.65 3.65 0 1 0 7.30 0a3.65 3.65 0 1 0 -7.30 0M542.9 809.1a3.65 3.65 0 1 0 7.30 0a3.65 3.65 0 1 0 -7.30 0M548.9 810.2a3.65 3.65 0 1 0 7.30 0a3.65 3.65 0 1 0 -7.30 0M555.0 810.8a3.65 3.65 0 1 0 7.30 0a3.65 3.65 0 1 0 -7.30 0M561.1 811.3a3.65 3.65 0 1 0 7.30 0a3.65 3.65 0 1 0 -7.30 0M567.1 811.5a3.65 3.65 0 1 0 7.30 0a3.65 3.65 0 1 0 -7.30 0M573.1 811.5a3.65 3.65 0 1 0 7.30 0a3.65 3.65 0 1 0 -7.30 0M579.2 811.5a3.65 3.65 0 1 0 7.30 0a3.65 3.65 0 1 0 -7.30 0M585.2 811.5a3.65 3.65 0 1 0 7.30 0a3.65 3.65 0 1 0 -7.30 0M591.3 811.5a3.65 3.65 0 1 0 7.30 0a3.65 3.65 0 1 0 -7.30 0M597.4 811.5a3.65 3.65 0 1 0 7.30 0a3.65 3.65 0 1 0 -7.30 0M603.4 811.5a3.65 3.65 0 1 0 7.30 0a3.65 3.65 0 1 0 -7.30 0M609.5 811.5a3.65 3.65 0 1 0 7.30 0a3.65 3.65 0 1 0 -7.30 0M615.5 811.5a3.65 3.65 0 1 0 7.30 0a3.65 3.65 0 1 0 -7.30 0M621.5 811.5a3.65 3.65 0 1 0 7.30 0a3.65 3.65 0 1 0 -7.30 0M627.6 811.5a3.65 3.65 0 1 0 7.30 0a3.65 3.65 0 1 0 -7.30 0M633.6 811.5a3.65 3.65 0 1 0 7.30 0a3.65 3.65 0 1 0 -7.30 0M639.7 811.5a3.65 3.65 0 1 0 7.30 0a3.65 3.65 0 1 0 -7.30 0M645.8 811.5a3.65 3.65 0 1 0 7.30 0a3.65 3.65 0 1 0 -7.30 0M651.8 811.5a3.65 3.65 0 1 0 7.30 0a3.65 3.65 0 1 0 -7.30 0M657.9 811.5a3.65 3.65 0 1 0 7.30 0a3.65 3.65 0 1 0 -7.30 0" fill="none" stroke="#D95319" stroke-width="3.10"/>
<path d="M62.5 807.2 L68.6 807.2 L74.7 807.2 L80.7 807.3 L86.8 807.3 L92.8 807.3 L98.8 807.3 L104.9 807.3 L110.9 807.3 L117.0 807.3 L123.0 807.4 L129.1 807.4 L135.2 807.4 L141.2 807.4 L147.2 807.4 L153.3 807.5 L159.4 807.5 L165.4 807.5 L171.4 807.5 L177.5 807.6 L183.6 807.6 L189.6 807.6 L195.7 807.7 L201.7 807.7 L207.8 807.8 L213.8 807.8 L219.9 807.9 L225.9 808.0 L231.9 808.0 L238.0 808.1 L244.1 808.2 L250.1 808.2 L256.1 808.3 L262.2 808.4 L268.2 808.4 L274.3 808.5 L280.4 808.5 L286.4 808.5 L292.5 808.5 L298.5 808.5 L304.5 808.5 L310.6 808.5 L316.6 808.5 L322.7 808.5 L328.8 808.5 L334.8 808.5 L340.8 808.5 L346.9 808.5 L352.9 808.5 L359.0 808.5 L365.1 808.5 L371.1 808.5 L377.2 808.5 L383.2 808.5 L389.2 808.5 L395.3 808.6 L401.3 808.6 L407.4 808.7 L413.4 808.8 L419.5 808.9 L425.6 809.1 L431.6 809.3 L437.6 809.5 L443.7 809.2 L449.8 807.7 L455.8 805.4 L461.9 802.0 L467.9 796.3 L473.9 789.9 L480.0 783.6 L486.0 776.8 L492.1 770.1 L498.1 763.9 L504.2 757.9 L510.2 751.9 L516.3 745.4 L522.4 738.9 L528.4 733.9 L534.5 730.0 L540.5 729.2 L546.5 729.6 L552.6 729.6 L558.6 728.5 L564.7 727.4 L570.8 727.5 L576.8 729.7 L582.9 733.0 L588.9 736.6 L595.0 741.5 L601.0 746.8 L607.1 752.7 L613.1 758.9 L619.1 760.4 L625.2 760.4 L631.2 760.9 L637.3 765.7 L643.4 772.6 L649.4 782.6 L655.5 789.9 L661.5 795.5" fill="none" stroke="#EDB120" stroke-width="2.00" stroke-linejoin="round"/>
<path d="M58.9 807.2a3.65 3.65 0 1 0 7.30 0a3.65 3.65 0 1 0 -7.30 0M64.9 807.2a3.65 3.65 0 1 0 7.30 0a3.65 3.65 0 1 0 -7.30 0M71.0 807.2a3.65 3.65 0 1 0 7.30 0a3.65 3.65 0 1 0 -7.30 0M77.0 807.3a3.65 3.65 0 1 0 7.30 0a3.65 3.65 0 1 0 -7.30 0M83.1 807.3a3.65 3.65 0 1 0 7.30 0a3.65 3.65 0 1 0 -7.30 0M89.1 807.3a3.65 3.65 0 1 0 7.30 0a3.65 3.65 0 1 0 -7.30 0M95.2 807.3a3.65 3.65 0 1 0 7.30 0a3.65 3.65 0 1 0 -7.30 0M101.2 807.3a3.65 3.65 0 1 0 7.30 0a3.65 3.65 0 1 0 -7.30 0M107.3 807.3a3.65 3.65 0 1 0 7.30 0a3.65 3.65 0 1 0 -7.30 0M113.3 807.3a3.65 3.65 0 1 0 7.30 0a3.65 3.65 0 1 0 -7.30 0M119.4 807.4a3.65 3.65 0 1 0 7.30 0a3.65 3.65 0 1 0 -7.30 0M125.4 807.4a3.65 3.65 0 1 0 7.30 0a3.65 3.65 0 1 0 -7.30 0M131.5 807.4a3.65 3.65 0 1 0 7.30 0a3.65 3.65 0 1 0 -7.30 0M137.5 807.4a3.65 3.65 0 1 0 7.30 0a3.65 3.65 0 1 0 -7.30 0M143.6 807.4a3.65 3.65 0 1 0 7.30 0a3.65 3.65 0 1 0 -7.30 0M149.7 807.5a3.65 3.65 0 1 0 7.30 0a3.65 3.65 0 1 0 -7.30 0M155.7 807.5a3.65 3.65 0 1 0 7.30 0a3.65 3.65 0 1 0 -7.30 0M161.7 807.5a3.65 3.65 0 1 0 7.30 0a3.65 3.65 0 1 0 -7.30 0M167.8 807.5a3.65 3.65 0 1 0 7.30 0a3.65 3.65 0 1 0 -7.30 0M173.8 807.6a3.65 3.65 0 1 0 7.30 0a3.65 3.65 0 1 0 -7.30 0M179.9 807.6a3.65 3.65 0 1 0 7.30 0a3.65 3.65 0 1 0 -7.30 0M185.9 807.6a3.65 3.65 0 1 0 7.30 0a3.65 3.65 0 1 0 -7.30 0M192.0 807.7a3.65 3.65 0 1 0 7.30 0a3.65 3.65 0 1 0 -7.30 0M198.0 807.7a3.65 3.65 0 1 0 7.30 0a3.65 3.65 0 1 0 -7.30 0M204.1 807.8a3.65 3.65 0 1 0 7.30 0a3.65 3.65 0 1 0 -7.30 0M210.2 807.8a3.65 3.65 0 1 0 7.30 0a3.65 3.65 0 1 0 -7.30 0M216.2 807.9a3.65 3.65 0 1 0 7.30 0a3.65 3.65 0 1 0 -7.30 0M222.2 808.0a3.65 3.65 0 1 0 7.30 0a3.65 3.65 0 1 0 -7.30 0M228.3 808.0a3.65 3.65 0 1 0 7.30 0a3.65 3.65 0 1 0 -7.30 0M234.3 808.1a3.65 3.65 0 1 0 7.30 0a3.65 3.65 0 1 0 -7.30 0M240.4 808.2a3.65 3.65 0 1 0 7.30 0a3.65 3.65 0 1 0 -7.30 0M246.4 808.2a3.65 3.65 0 1 0 7.30 0a3.65 3.65 0 1 0 -7.30 0M252.5 808.3a3.65 3.65 0 1 0 7.30 0a3.65 3.65 0 1 0 -7.30 0M258.6 808.4a3.65 3.65 0 1 0 7.30 0a3.65 3.65 0 1 0 -7.30 0M264.6 808.4a3.65 3.65 0 1 0 7.30 0a3.65 3.65 0 1 0 -7.30 0M270.6 808.5a3.65 3.65 0 1 0 7.30 0a3.65 3.65 0 1 0 -7.30 0M276.7 808.5a3.65 3.65 0 1 0 7.30 0a3.65 3.65 0 1 0 -7.30 0M282.8 808.5a3.65 3.65 0 1 0 7.30 0a3.65 3.65 0 1 0 -7.30 0M288.8 808.5a3.65 3.65 0 1 0 7.30 0a3.65 3.65 0 1 0 -7.30 0M294.9 808.5a3.65 3.65 0 1 0 7.30 0a3.65 3.65 0 1 0 -7.30 0M300.9 808.5a3.65 3.65 0 1 0 7.30 0a3.65 3.65 0 1 0 -7.30 0M307.0 808.5a3.65 3.65 0 1 0 7.30 0a3.65 3.65 0 1 0 -7.30 0M313.0 808.5a3.65 3.65 0 1 0 7.30 0a3.65 3.65 0 1 0 -7.30 0M319.1 808.5a3.65 3.65 0 1 0 7.30 0a3.65 3.65 0 1 0 -7.30 0M325.1 808.5a3.65 3.65 0 1 0 7.30 0a3.65 3.65 0 1 0 -7.30 0M331.2 808.5a3.65 3.65 0 1 0 7.30 0a3.65 3.65 0 1 0 -7.30 0M337.2 808.5a3.65 3.65 0 1 0 7.30 0a3.65 3.65 0 1 0 -7.30 0M343.2 808.5a3.65 3.65 0 1 0 7.30 0a3.65 3.65 0 1 0 -7.30 0M349.3 808.5a3.65 3.65 0 1 0 7.30 0a3.65 3.65 0 1 0 -7.30 0M355.4 808.5a3.65 3.65 0 1 0 7.30 0a3.65 3.65 0 1 0 -7.30 0M361.4 808.5a3.65 3.65 0 1 0 7.30 0a3.65 3.65 0 1 0 -7.30 0M367.5 808.5a3.65 3.65 0 1 0 7.30 0a3.65 3.65 0 1 0 -7.30 0M373.5 808.5a3.65 3.65 0 1 0 7.30 0a3.65 3.65 0 1 0 -7.30 0M379.6 808.5a3.65 3.65 0 1 0 7.30 0a3.65 3.65 0 1 0 -7.30 0M385.6 808.5a3.65 3.65 0 1 0 7.30 0a3.65 3.65 0 1 0 -7.30 0M391.7 808.6a3.65 3.65 0 1 0 7.30 0a3.65 3.65 0 1 0 -7.30 0M397.7 808.6a3.65 3.65 0 1 0 7.30 0a3.65 3.65 0 1 0 -7.30 0M403.8 808.7a3.65 3.65 0 1 0 7.30 0a3.65 3.65 0 1 0 -7.30 0M409.8 808.8a3.65 3.65 0 1 0 7.30 0a3.65 3.65 0 1 0 -7.30 0M415.9 808.9a3.65 3.65 0 1 0 7.30 0a3.65 3.65 0 1 0 -7.30 0M421.9 809.1a3.65 3.65 0 1 0 7.30 0a3.65 3.65 0 1 0 -7.30 0M428.0 809.3a3.65 3.65 0 1 0 7.30 0a3.65 3.65 0 1 0 -7.30 0M434.0 809.5a3.65 3.65 0 1 0 7.30 0a3.65 3.65 0 1 0 -7.30 0M440.1 809.2a3.65 3.65 0 1 0 7.30 0a3.65 3.65 0 1 0 -7.30 0M446.1 807.7a3.65 3.65 0 1 0 7.30 0a3.65 3.65 0 1 0 -7.30 0M452.2 805.4a3.65 3.65 0 1 0 7.30 0a3.65 3.65 0 1 0 -7.30 0M458.2 802.0a3.65 3.65 0 1 0 7.30 0a3.65 3.65 0 1 0 -7.30 0M464.3 796.3a3.65 3.65 0 1 0 7.30 0a3.65 3.65 0 1 0 -7.30 0M470.3 789.9a3.65 3.65 0 1 0 7.30 0a3.65 3.65 0 1 0 -7.30 0M476.4 783.6a3.65 3.65 0 1 0 7.30 0a3.65 3.65 0 1 0 -7.30 0M482.4 776.8a3.65 3.65 0 1 0 7.30 0a3.65 3.65 0 1 0 -7.30 0M488.4 770.1a3.65 3.65 0 1 0 7.30 0a3.65 3.65 0 1 0 -7.30 0M494.5 763.9a3.65 3.65 0 1 0 7.30 0a3.65 3.65 0 1 0 -7.30 0M500.6 757.9a3.65 3.65 0 1 0 7.30 0a3.65 3.65 0 1 0 -7.30 0M506.6 751.9a3.65 3.65 0 1 0 7.30 0a3.65 3.65 0 1 0 -7.30 0M512.6 745.4a3.65 3.65 0 1 0 7.30 0a3.65 3.65 0 1 0 -7.30 0M518.7 738.9a3.65 3.65 0 1 0 7.30 0a3.65 3.65 0 1 0 -7.30 0M524.8 733.9a3.65 3.65 0 1 0 7.30 0a3.65 3.65 0 1 0 -7.30 0M530.8 730.0a3.65 3.65 0 1 0 7.30 0a3.65 3.65 0 1 0 -7.30 0M536.9 729.2a3.65 3.65 0 1 0 7.30 0a3.65 3.65 0 1 0 -7.30 0M542.9 729.6a3.65 3.65 0 1 0 7.30 0a3.65 3.65 0 1 0 -7.30 0M548.9 729.6a3.65 3.65 0 1 0 7.30 0a3.65 3.65 0 1 0 -7.30 0M555.0 728.5a3.65 3.65 0 1 0 7.30 0a3.65 3.65 0 1 0 -7.30 0M561.1 727.4a3.65 3.65 0 1 0 7.30 0a3.65 3.65 0 1 0 -7.30 0M567.1 727.5a3.65 3.65 0 1 0 7.30 0a3.65 3.65 0 1 0 -7.30 0M573.1 729.7a3.65 3.65 0 1 0 7.30 0a3.65 3.65 0 1 0 -7.30 0M579.2 733.0a3.65 3.65 0 1 0 7.30 0a3.65 3.65 0 1 0 -7.30 0M585.2 736.6a3.65 3.65 0 1 0 7.30 0a3.65 3.65 0 1 0 -7.30 0M591.3 741.5a3.65 3.65 0 1 0 7.30 0a3.65 3.65 0 1 0 -7.30 0M597.4 746.8a3.65 3.65 0 1 0 7.30 0a3.65 3.65 0 1 0 -7.30 0M603.4 752.7a3.65 3.65 0 1 0 7.30 0a3.65 3.65 0 1 0 -7.30 0M609.5 758.9a3.65 3.65 0 1 0 7.30 0a3.65 3.65 0 1 0 -7.30 0M615.5 760.4a3.65 3.65 0 1 0 7.30 0a3.65 3.65 0 1 0 -7.30 0M621.5 760.4a3.65 3.65 0 1 0 7.30 0a3.65 3.65 0 1 0 -7.30 0M627.6 760.9a3.65 3.65 0 1 0 7.30 0a3.65 3.65 0 1 0 -7.30 0M633.6 765.7a3.65 3.65 0 1 0 7.30 0a3.65 3.65 0 1 0 -7.30 0M639.7 772.6a3.65 3.65 0 1 0 7.30 0a3.65 3.65 0 1 0 -7.30 0M645.8 782.6a3.65 3.65 0 1 0 7.30 0a3.65 3.65 0 1 0 -7.30 0M651.8 789.9a3.65 3.65 0 1 0 7.30 0a3.65 3.65 0 1 0 -7.30 0M657.9 795.5a3.65 3.65 0 1 0 7.30 0a3.65 3.65 0 1 0 -7.30 0" fill="none" stroke="#EDB120" stroke-width="3.10"/>
<path d="M62.5 806.3 L68.6 806.3 L74.7 806.3 L80.7 806.3 L86.8 806.3 L92.8 806.3 L98.8 806.3 L104.9 806.3 L110.9 806.3 L117.0 804.3 L123.0 804.2 L129.1 804.1 L135.2 804.0 L141.2 801.4 L147.2 801.4 L153.3 801.4 L159.4 801.4 L165.4 801.4 L171.4 801.4 L177.5 801.4 L183.6 799.7 L189.6 799.7 L195.7 799.7 L201.7 798.1 L207.8 798.1 L213.8 798.1 L219.9 796.2 L225.9 796.2 L231.9 796.2 L238.0 794.5 L244.1 794.1 L250.1 793.9 L256.1 793.6 L262.2 793.3 L268.2 793.0 L274.3 792.7 L280.4 792.4 L286.4 792.0 L292.5 791.8 L298.5 791.5 L304.5 791.2 L310.6 790.8 L316.6 790.5 L322.7 790.1 L328.8 789.6 L334.8 789.1 L340.8 788.7 L346.9 788.3 L352.9 788.0 L359.0 787.7 L365.1 787.5 L371.1 787.2 L377.2 786.8 L383.2 786.4 L389.2 785.7 L395.3 784.8 L401.3 783.5 L407.4 782.1 L413.4 780.6 L419.5 779.0 L425.6 777.4 L431.6 775.4 L437.6 774.7 L443.7 774.7 L449.8 774.7 L455.8 774.7 L461.9 775.3 L467.9 776.7 L473.9 778.3 L480.0 780.5 L486.0 783.8 L492.1 786.9 L498.1 788.3 L504.2 789.3 L510.2 790.3 L516.3 791.5 L522.4 792.8 L528.4 794.0 L534.5 795.2 L540.5 796.3 L546.5 797.8 L552.6 799.9 L558.6 802.1 L564.7 804.0 L570.8 805.0 L576.8 805.7 L582.9 806.1 L588.9 806.5 L595.0 806.8 L601.0 807.1 L607.1 807.3 L613.1 807.6 L619.1 807.7 L625.2 807.8 L631.2 807.9 L637.3 807.8 L643.4 807.6 L649.4 807.2 L655.5 806.8 L661.5 806.3" fill="none" stroke="#7E2F8E" stroke-width="2.00" stroke-linejoin="round"/>
<path d="M58.9 806.3a3.65 3.65 0 1 0 7.30 0a3.65 3.65 0 1 0 -7.30 0M64.9 806.3a3.65 3.65 0 1 0 7.30 0a3.65 3.65 0 1 0 -7.30 0M71.0 806.3a3.65 3.65 0 1 0 7.30 0a3.65 3.65 0 1 0 -7.30 0M77.0 806.3a3.65 3.65 0 1 0 7.30 0a3.65 3.65 0 1 0 -7.30 0M83.1 806.3a3.65 3.65 0 1 0 7.30 0a3.65 3.65 0 1 0 -7.30 0M89.1 806.3a3.65 3.65 0 1 0 7.30 0a3.65 3.65 0 1 0 -7.30 0M95.2 806.3a3.65 3.65 0 1 0 7.30 0a3.65 3.65 0 1 0 -7.30 0M101.2 806.3a3.65 3.65 0 1 0 7.30 0a3.65 3.65 0 1 0 -7.30 0M107.3 806.3a3.65 3.65 0 1 0 7.30 0a3.65 3.65 0 1 0 -7.30 0M113.3 804.3a3.65 3.65 0 1 0 7.30 0a3.65 3.65 0 1 0 -7.30 0M119.4 804.2a3.65 3.65 0 1 0 7.30 0a3.65 3.65 0 1 0 -7.30 0M125.4 804.1a3.65 3.65 0 1 0 7.30 0a3.65 3.65 0 1 0 -7.30 0M131.5 804.0a3.65 3.65 0 1 0 7.30 0a3.65 3.65 0 1 0 -7.30 0M137.5 801.4a3.65 3.65 0 1 0 7.30 0a3.65 3.65 0 1 0 -7.30 0M143.6 801.4a3.65 3.65 0 1 0 7.30 0a3.65 3.65 0 1 0 -7.30 0M149.7 801.4a3.65 3.65 0 1 0 7.30 0a3.65 3.65 0 1 0 -7.30 0M155.7 801.4a3.65 3.65 0 1 0 7.30 0a3.65 3.65 0 1 0 -7.30 0M161.7 801.4a3.65 3.65 0 1 0 7.30 0a3.65 3.65 0 1 0 -7.30 0M167.8 801.4a3.65 3.65 0 1 0 7.30 0a3.65 3.65 0 1 0 -7.30 0M173.8 801.4a3.65 3.65 0 1 0 7.30 0a3.65 3.65 0 1 0 -7.30 0M179.9 799.7a3.65 3.65 0 1 0 7.30 0a3.65 3.65 0 1 0 -7.30 0M185.9 799.7a3.65 3.65 0 1 0 7.30 0a3.65 3.65 0 1 0 -7.30 0M192.0 799.7a3.65 3.65 0 1 0 7.30 0a3.65 3.65 0 1 0 -7.30 0M198.0 798.1a3.65 3.65 0 1 0 7.30 0a3.65 3.65 0 1 0 -7.30 0M204.1 798.1a3.65 3.65 0 1 0 7.30 0a3.65 3.65 0 1 0 -7.30 0M210.2 798.1a3.65 3.65 0 1 0 7.30 0a3.65 3.65 0 1 0 -7.30 0M216.2 796.2a3.65 3.65 0 1 0 7.30 0a3.65 3.65 0 1 0 -7.30 0M222.2 796.2a3.65 3.65 0 1 0 7.30 0a3.65 3.65 0 1 0 -7.30 0M228.3 796.2a3.65 3.65 0 1 0 7.30 0a3.65 3.65 0 1 0 -7.30 0M234.3 794.5a3.65 3.65 0 1 0 7.30 0a3.65 3.65 0 1 0 -7.30 0M240.4 794.1a3.65 3.65 0 1 0 7.30 0a3.65 3.65 0 1 0 -7.30 0M246.4 793.9a3.65 3.65 0 1 0 7.30 0a3.65 3.65 0 1 0 -7.30 0M252.5 793.6a3.65 3.65 0 1 0 7.30 0a3.65 3.65 0 1 0 -7.30 0M258.6 793.3a3.65 3.65 0 1 0 7.30 0a3.65 3.65 0 1 0 -7.30 0M264.6 793.0a3.65 3.65 0 1 0 7.30 0a3.65 3.65 0 1 0 -7.30 0M270.6 792.7a3.65 3.65 0 1 0 7.30 0a3.65 3.65 0 1 0 -7.30 0M276.7 792.4a3.65 3.65 0 1 0 7.30 0a3.65 3.65 0 1 0 -7.30 0M282.8 792.0a3.65 3.65 0 1 0 7.30 0a3.65 3.65 0 1 0 -7.30 0M288.8 791.8a3.65 3.65 0 1 0 7.30 0a3.65 3.65 0 1 0 -7.30 0M294.9 791.5a3.65 3.65 0 1 0 7.30 0a3.65 3.65 0 1 0 -7.30 0M300.9 791.2a3.65 3.65 0 1 0 7.30 0a3.65 3.65 0 1 0 -7.30 0M307.0 790.8a3.65 3.65 0 1 0 7.30 0a3.65 3.65 0 1 0 -7.30 0M313.0 790.5a3.65 3.65 0 1 0 7.30 0a3.65 3.65 0 1 0 -7.30 0M319.1 790.1a3.65 3.65 0 1 0 7.30 0a3.65 3.65 0 1 0 -7.30 0M325.1 789.6a3.65 3.65 0 1 0 7.30 0a3.65 3.65 0 1 0 -7.30 0M331.2 789.1a3.65 3.65 0 1 0 7.30 0a3.65 3.65 0 1 0 -7.30 0M337.2 788.7a3.65 3.65 0 1 0 7.30 0a3.65 3.65 0 1 0 -7.30 0M343.2 788.3a3.65 3.65 0 1 0 7.30 0a3.65 3.65 0 1 0 -7.30 0M349.3 788.0a3.65 3.65 0 1 0 7.30 0a3.65 3.65 0 1 0 -7.30 0M355.4 787.7a3.65 3.65 0 1 0 7.30 0a3.65 3.65 0 1 0 -7.30 0M361.4 787.5a3.65 3.65 0 1 0 7.30 0a3.65 3.65 0 1 0 -7.30 0M367.5 787.2a3.65 3.65 0 1 0 7.30 0a3.65 3.65 0 1 0 -7.30 0M373.5 786.8a3.65 3.65 0 1 0 7.30 0a3.65 3.65 0 1 0 -7.30 0M379.6 786.4a3.65 3.65 0 1 0 7.30 0a3.65 3.65 0 1 0 -7.30 0M385.6 785.7a3.65 3.65 0 1 0 7.30 0a3.65 3.65 0 1 0 -7.30 0M391.7 784.8a3.65 3.65 0 1 0 7.30 0a3.65 3.65 0 1 0 -7.30 0M397.7 783.5a3.65 3.65 0 1 0 7.30 0a3.65 3.65 0 1 0 -7.30 0M403.8 782.1a3.65 3.65 0 1 0 7.30 0a3.65 3.65 0 1 0 -7.30 0M409.8 780.6a3.65 3.65 0 1 0 7.30 0a3.65 3.65 0 1 0 -7.30 0M415.9 779.0a3.65 3.65 0 1 0 7.30 0a3.65 3.65 0 1 0 -7.30 0M421.9 777.4a3.65 3.65 0 1 0 7.30 0a3.65 3.65 0 1 0 -7.30 0M428.0 775.4a3.65 3.65 0 1 0 7.30 0a3.65 3.65 0 1 0 -7.30 0M434.0 774.7a3.65 3.65 0 1 0 7.30 0a3.65 3.65 0 1 0 -7.30 0M440.1 774.7a3.65 3.65 0 1 0 7.30 0a3.65 3.65 0 1 0 -7.30 0M446.1 774.7a3.65 3.65 0 1 0 7.30 0a3.65 3.65 0 1 0 -7.30 0M452.2 774.7a3.65 3.65 0 1 0 7.30 0a3.65 3.65 0 1 0 -7.30 0M458.2 775.3a3.65 3.65 0 1 0 7.30 0a3.65 3.65 0 1 0 -7.30 0M464.3 776.7a3.65 3.65 0 1 0 7.30 0a3.65 3.65 0 1 0 -7.30 0M470.3 778.3a3.65 3.65 0 1 0 7.30 0a3.65 3.65 0 1 0 -7.30 0M476.4 780.5a3.65 3.65 0 1 0 7.30 0a3.65 3.65 0 1 0 -7.30 0M482.4 783.8a3.65 3.65 0 1 0 7.30 0a3.65 3.65 0 1 0 -7.30 0M488.4 786.9a3.65 3.65 0 1 0 7.30 0a3.65 3.65 0 1 0 -7.30 0M494.5 788.3a3.65 3.65 0 1 0 7.30 0a3.65 3.65 0 1 0 -7.30 0M500.6 789.3a3.65 3.65 0 1 0 7.30 0a3.65 3.65 0 1 0 -7.30 0M506.6 790.3a3.65 3.65 0 1 0 7.30 0a3.65 3.65 0 1 0 -7.30 0M512.6 791.5a3.65 3.65 0 1 0 7.30 0a3.65 3.65 0 1 0 -7.30 0M518.7 792.8a3.65 3.65 0 1 0 7.30 0a3.65 3.65 0 1 0 -7.30 0M524.8 794.0a3.65 3.65 0 1 0 7.30 0a3.65 3.65 0 1 0 -7.30 0M530.8 795.2a3.65 3.65 0 1 0 7.30 0a3.65 3.65 0 1 0 -7.30 0M536.9 796.3a3.65 3.65 0 1 0 7.30 0a3.65 3.65 0 1 0 -7.30 0M542.9 797.8a3.65 3.65 0 1 0 7.30 0a3.65 3.65 0 1 0 -7.30 0M548.9 799.9a3.65 3.65 0 1 0 7.30 0a3.65 3.65 0 1 0 -7.30 0M555.0 802.1a3.65 3.65 0 1 0 7.30 0a3.65 3.65 0 1 0 -7.30 0M561.1 804.0a3.65 3.65 0 1 0 7.30 0a3.65 3.65 0 1 0 -7.30 0M567.1 805.0a3.65 3.65 0 1 0 7.30 0a3.65 3.65 0 1 0 -7.30 0M573.1 805.7a3.65 3.65 0 1 0 7.30 0a3.65 3.65 0 1 0 -7.30 0M579.2 806.1a3.65 3.65 0 1 0 7.30 0a3.65 3.65 0 1 0 -7.30 0M585.2 806.5a3.65 3.65 0 1 0 7.30 0a3.65 3.65 0 1 0 -7.30 0M591.3 806.8a3.65 3.65 0 1 0 7.30 0a3.65 3.65 0 1 0 -7.30 0M597.4 807.1a3.65 3.65 0 1 0 7.30 0a3.65 3.65 0 1 0 -7.30 0M603.4 807.3a3.65 3.65 0 1 0 7.30 0a3.65 3.65 0 1 0 -7.30 0M609.5 807.6a3.65 3.65 0 1 0 7.30 0a3.65 3.65 0 1 0 -7.30 0M615.5 807.7a3.65 3.65 0 1 0 7.30 0a3.65 3.65 0 1 0 -7.30 0M621.5 807.8a3.65 3.65 0 1 0 7.30 0a3.65 3.65 0 1 0 -7.30 0M627.6 807.9a3.65 3.65 0 1 0 7.30 0a3.65 3.65 0 1 0 -7.30 0M633.6 807.8a3.65 3.65 0 1 0 7.30 0a3.65 3.65 0 1 0 -7.30 0M639.7 807.6a3.65 3.65 0 1 0 7.30 0a3.65 3.65 0 1 0 -7.30 0M645.8 807.2a3.65 3.65 0 1 0 7.30 0a3.65 3.65 0 1 0 -7.30 0M651.8 806.8a3.65 3.65 0 1 0 7.30 0a3.65 3.65 0 1 0 -7.30 0M657.9 806.3a3.65 3.65 0 1 0 7.30 0a3.65 3.65 0 1 0 -7.30 0" fill="none" stroke="#7E2F8E" stroke-width="3.10"/>
</g>
<rect x="72.9" y="650.7" width="139" height="107.8" fill="#fff" stroke="#262626" stroke-width="1.5"/>
<path d="M79.4 665.6H124.0" stroke="#0072BD" stroke-width="2.6"/>
<circle cx="101.7" cy="665.6" r="3.9" fill="none" stroke="#0072BD" stroke-width="2.4"/>
<text x="129.7" y="672.4" class="l">Total</text>
<path d="M79.4 691.4H124.0" stroke="#D95319" stroke-width="2.6"/>
<circle cx="101.7" cy="691.4" r="3.9" fill="none" stroke="#D95319" stroke-width="2.4"/>
<text x="129.7" y="698.2" class="l">Leonard</text>
<path d="M79.4 717.2H124.0" stroke="#EDB120" stroke-width="2.6"/>
<circle cx="101.7" cy="717.2" r="3.9" fill="none" stroke="#EDB120" stroke-width="2.4"/>
<text x="129.7" y="724.0" class="l">Cross</text>
<path d="M79.4 743.0H124.0" stroke="#7E2F8E" stroke-width="2.6"/>
<circle cx="101.7" cy="743.0" r="3.9" fill="none" stroke="#7E2F8E" stroke-width="2.4"/>
<text x="129.7" y="749.8" class="l">Subfilter</text>
<text x="359.5" y="931" text-anchor="middle" class="k">k</text>
</svg>
</body></html>
